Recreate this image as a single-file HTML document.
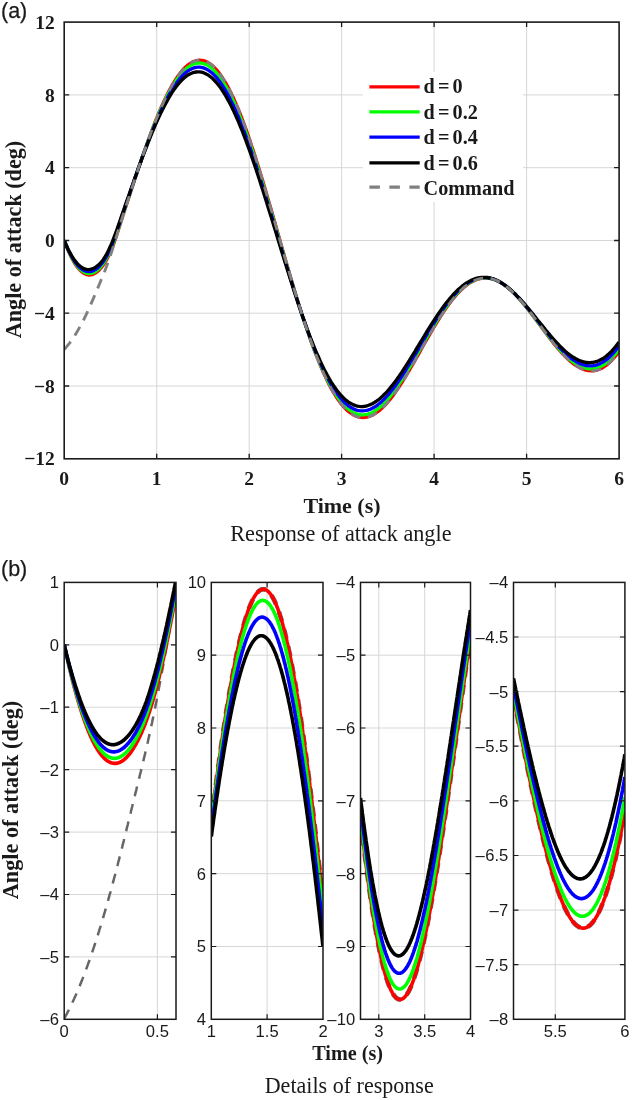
<!DOCTYPE html>
<html><head><meta charset="utf-8"><title>Figure</title>
<style>html,body{margin:0;padding:0;background:#fff}svg{display:block}</style></head>
<body>
<svg width="632" height="1100" viewBox="0 0 632 1100">
<rect width="632" height="1100" fill="#fff"/>
<clipPath id="c1"><rect x="64.2" y="22.1" width="554.9" height="436.7"/></clipPath>
<path d="M156.7,22.1V458.8M249.2,22.1V458.8M341.6,22.1V458.8M434.1,22.1V458.8M526.6,22.1V458.8M64.2,386.0H619.1M64.2,313.2H619.1M64.2,240.5H619.1M64.2,167.7H619.1M64.2,94.9H619.1" stroke="#d2d2d2" stroke-width="0.9" fill="none"/>
<g clip-path="url(#c1)" fill="none" stroke-linejoin="round">
<path d="M64.2,240.5 L66.1,245.4 L67.9,249.9 L69.8,254.1 L71.6,257.9 L73.5,261.3 L75.3,264.3 L77.2,267.0 L79.0,269.2 L80.9,271.1 L82.8,272.7 L84.6,273.8 L86.5,274.6 L88.3,275.0 L90.2,275.0 L92.0,274.6 L93.9,273.9 L95.7,272.9 L97.6,271.5 L99.5,269.7 L101.3,267.7 L103.2,265.3 L105.0,262.5 L106.9,259.3 L108.7,255.7 L110.6,251.6 L112.5,247.1 L114.3,242.2 L116.2,236.8 L118.0,231.1 L119.9,225.3 L121.7,219.4 L123.6,213.6 L125.4,207.9 L127.3,202.2 L129.2,196.5 L131.0,190.8 L132.9,185.2 L134.7,179.5 L136.6,174.0 L138.4,168.4 L140.3,162.9 L142.1,157.5 L144.0,152.2 L145.9,146.9 L147.7,141.7 L149.6,136.6 L151.4,131.6 L153.3,126.7 L155.1,122.0 L157.0,117.4 L158.8,112.9 L160.7,108.5 L162.6,104.3 L164.4,100.3 L166.3,96.4 L168.1,92.6 L170.0,89.1 L171.8,85.7 L173.7,82.6 L175.6,79.6 L177.4,76.8 L179.3,74.2 L181.1,71.8 L183.0,69.7 L184.8,67.7 L186.7,66.0 L188.5,64.5 L190.4,63.2 L192.3,62.1 L194.1,61.3 L196.0,60.7 L197.8,60.3 L199.7,60.2 L201.5,60.3 L203.4,60.7 L205.2,61.2 L207.1,62.0 L209.0,63.1 L210.8,64.4 L212.7,65.9 L214.5,67.6 L216.4,69.6 L218.2,71.8 L220.1,74.3 L221.9,76.9 L223.8,79.8 L225.7,82.9 L227.5,86.1 L229.4,89.6 L231.2,93.3 L233.1,97.2 L234.9,101.3 L236.8,105.6 L238.7,110.0 L240.5,114.7 L242.4,119.5 L244.2,124.4 L246.1,129.5 L247.9,134.8 L249.8,140.1 L251.6,145.7 L253.5,151.3 L255.4,157.1 L257.2,162.9 L259.1,168.9 L260.9,175.0 L262.8,181.1 L264.6,187.3 L266.5,193.6 L268.3,199.9 L270.2,206.3 L272.1,212.7 L273.9,219.2 L275.8,225.7 L277.6,232.2 L279.5,238.7 L281.3,245.1 L283.2,251.6 L285.0,258.1 L286.9,264.5 L288.8,270.9 L290.6,277.2 L292.5,283.4 L294.3,289.7 L296.2,295.8 L298.0,301.8 L299.9,307.8 L301.7,313.7 L303.6,319.4 L305.5,325.1 L307.3,330.6 L309.2,336.0 L311.0,341.3 L312.9,346.4 L314.7,351.4 L316.6,356.2 L318.5,360.9 L320.3,365.4 L322.2,369.8 L324.0,373.9 L325.9,377.9 L327.7,381.8 L329.6,385.4 L331.4,388.9 L333.3,392.1 L335.2,395.2 L337.0,398.1 L338.9,400.8 L340.7,403.3 L342.6,405.5 L344.4,407.6 L346.3,409.5 L348.1,411.2 L350.0,412.7 L351.9,413.9 L353.7,415.0 L355.6,415.9 L357.4,416.6 L359.3,417.1 L361.1,417.4 L363.0,417.5 L364.8,417.4 L366.7,417.1 L368.6,416.6 L370.4,416.0 L372.3,415.2 L374.1,414.2 L376.0,413.0 L377.8,411.7 L379.7,410.3 L381.6,408.6 L383.4,406.9 L385.3,404.9 L387.1,402.9 L389.0,400.7 L390.8,398.4 L392.7,396.0 L394.5,393.5 L396.4,390.9 L398.3,388.1 L400.1,385.3 L402.0,382.4 L403.8,379.5 L405.7,376.4 L407.5,373.4 L409.4,370.2 L411.2,367.0 L413.1,363.8 L415.0,360.5 L416.8,357.3 L418.7,354.0 L420.5,350.7 L422.4,347.3 L424.2,344.0 L426.1,340.8 L427.9,337.5 L429.8,334.3 L431.7,331.1 L433.5,327.9 L435.4,324.8 L437.2,321.8 L439.1,318.8 L440.9,315.8 L442.8,313.0 L444.6,310.2 L446.5,307.5 L448.4,305.0 L450.2,302.5 L452.1,300.1 L453.9,297.8 L455.8,295.6 L457.6,293.5 L459.5,291.6 L461.4,289.7 L463.2,288.0 L465.1,286.5 L466.9,285.0 L468.8,283.7 L470.6,282.5 L472.5,281.5 L474.3,280.6 L476.2,279.8 L478.1,279.2 L479.9,278.7 L481.8,278.3 L483.6,278.1 L485.5,278.1 L487.3,278.1 L489.2,278.4 L491.0,278.7 L492.9,279.2 L494.8,279.8 L496.6,280.5 L498.5,281.4 L500.3,282.4 L502.2,283.5 L504.0,284.8 L505.9,286.1 L507.7,287.6 L509.6,289.2 L511.5,290.8 L513.3,292.6 L515.2,294.4 L517.0,296.4 L518.9,298.4 L520.7,300.5 L522.6,302.7 L524.5,304.9 L526.3,307.2 L528.2,309.5 L530.0,311.9 L531.9,314.4 L533.7,316.8 L535.6,319.3 L537.4,321.8 L539.3,324.3 L541.2,326.8 L543.0,329.3 L544.9,331.8 L546.7,334.3 L548.6,336.7 L550.4,339.2 L552.3,341.5 L554.1,343.9 L556.0,346.2 L557.9,348.4 L559.7,350.5 L561.6,352.6 L563.4,354.6 L565.3,356.5 L567.1,358.4 L569.0,360.1 L570.8,361.7 L572.7,363.2 L574.6,364.6 L576.4,365.8 L578.3,366.9 L580.1,367.9 L582.0,368.8 L583.8,369.5 L585.7,370.1 L587.6,370.5 L589.4,370.7 L591.3,370.8 L593.1,370.8 L595.0,370.5 L596.8,370.1 L598.7,369.5 L600.5,368.8 L602.4,367.9 L604.3,366.7 L606.1,365.5 L608.0,364.0 L609.8,362.4 L611.7,360.5 L613.5,358.5 L615.4,356.3 L617.2,354.0 L619.1,351.4" stroke="#ff0000" stroke-width="3.3"/>
<path d="M64.2,240.5 L66.1,245.2 L67.9,249.6 L69.8,253.6 L71.6,257.3 L73.5,260.6 L75.3,263.5 L77.2,266.0 L79.0,268.2 L80.9,270.0 L82.8,271.4 L84.6,272.5 L86.5,273.2 L88.3,273.5 L90.2,273.5 L92.0,273.1 L93.9,272.4 L95.7,271.3 L97.6,269.9 L99.5,268.2 L101.3,266.1 L103.2,263.7 L105.0,260.9 L106.9,257.7 L108.7,254.1 L110.6,250.0 L112.5,245.5 L114.3,240.6 L116.2,235.3 L118.0,229.7 L119.9,224.0 L121.7,218.2 L123.6,212.6 L125.4,206.9 L127.3,201.3 L129.2,195.7 L131.0,190.1 L132.9,184.6 L134.7,179.0 L136.6,173.6 L138.4,168.1 L140.3,162.7 L142.1,157.4 L144.0,152.2 L145.9,147.0 L147.7,141.9 L149.6,136.9 L151.4,132.0 L153.3,127.3 L155.1,122.6 L157.0,118.1 L158.8,113.7 L160.7,109.5 L162.6,105.4 L164.4,101.4 L166.3,97.6 L168.1,94.0 L170.0,90.6 L171.8,87.3 L173.7,84.2 L175.6,81.3 L177.4,78.7 L179.3,76.2 L181.1,73.9 L183.0,71.8 L184.8,69.9 L186.7,68.3 L188.5,66.8 L190.4,65.6 L192.3,64.6 L194.1,63.9 L196.0,63.4 L197.8,63.1 L199.7,63.0 L201.5,63.2 L203.4,63.6 L205.2,64.2 L207.1,65.0 L209.0,66.1 L210.8,67.5 L212.7,69.0 L214.5,70.8 L216.4,72.8 L218.2,75.0 L220.1,77.5 L221.9,80.1 L223.8,83.0 L225.7,86.1 L227.5,89.4 L229.4,92.9 L231.2,96.6 L233.1,100.4 L234.9,104.5 L236.8,108.8 L238.7,113.2 L240.5,117.8 L242.4,122.5 L244.2,127.4 L246.1,132.5 L247.9,137.7 L249.8,143.1 L251.6,148.5 L253.5,154.1 L255.4,159.8 L257.2,165.6 L259.1,171.5 L260.9,177.5 L262.8,183.5 L264.6,189.7 L266.5,195.9 L268.3,202.1 L270.2,208.4 L272.1,214.8 L273.9,221.1 L275.8,227.5 L277.6,233.9 L279.5,240.3 L281.3,246.7 L283.2,253.0 L285.0,259.4 L286.9,265.7 L288.8,271.9 L290.6,278.2 L292.5,284.3 L294.3,290.4 L296.2,296.4 L298.0,302.4 L299.9,308.2 L301.7,314.0 L303.6,319.6 L305.5,325.1 L307.3,330.5 L309.2,335.8 L311.0,341.0 L312.9,346.0 L314.7,350.9 L316.6,355.6 L318.5,360.2 L320.3,364.6 L322.2,368.8 L324.0,372.9 L325.9,376.8 L327.7,380.5 L329.6,384.1 L331.4,387.4 L333.3,390.6 L335.2,393.6 L337.0,396.4 L338.9,399.0 L340.7,401.4 L342.6,403.6 L344.4,405.6 L346.3,407.4 L348.1,409.0 L350.0,410.4 L351.9,411.6 L353.7,412.7 L355.6,413.5 L357.4,414.1 L359.3,414.5 L361.1,414.8 L363.0,414.8 L364.8,414.7 L366.7,414.4 L368.6,413.9 L370.4,413.2 L372.3,412.4 L374.1,411.4 L376.0,410.2 L377.8,408.9 L379.7,407.4 L381.6,405.8 L383.4,404.0 L385.3,402.1 L387.1,400.1 L389.0,397.9 L390.8,395.6 L392.7,393.2 L394.5,390.7 L396.4,388.1 L398.3,385.4 L400.1,382.6 L402.0,379.8 L403.8,376.9 L405.7,373.9 L407.5,370.8 L409.4,367.7 L411.2,364.6 L413.1,361.4 L415.0,358.2 L416.8,354.9 L418.7,351.7 L420.5,348.4 L422.4,345.2 L424.2,342.0 L426.1,338.7 L427.9,335.5 L429.8,332.4 L431.7,329.2 L433.5,326.1 L435.4,323.1 L437.2,320.1 L439.1,317.2 L440.9,314.3 L442.8,311.6 L444.6,308.9 L446.5,306.2 L448.4,303.7 L450.2,301.3 L452.1,298.9 L453.9,296.7 L455.8,294.6 L457.6,292.6 L459.5,290.7 L461.4,288.9 L463.2,287.3 L465.1,285.8 L466.9,284.4 L468.8,283.1 L470.6,282.0 L472.5,281.0 L474.3,280.1 L476.2,279.4 L478.1,278.8 L479.9,278.4 L481.8,278.1 L483.6,277.9 L485.5,277.9 L487.3,278.0 L489.2,278.2 L491.0,278.6 L492.9,279.1 L494.8,279.7 L496.6,280.5 L498.5,281.4 L500.3,282.4 L502.2,283.5 L504.0,284.8 L505.9,286.1 L507.7,287.6 L509.6,289.1 L511.5,290.8 L513.3,292.6 L515.2,294.4 L517.0,296.3 L518.9,298.3 L520.7,300.4 L522.6,302.6 L524.5,304.8 L526.3,307.0 L528.2,309.3 L530.0,311.7 L531.9,314.1 L533.7,316.5 L535.6,318.9 L537.4,321.4 L539.3,323.9 L541.2,326.3 L543.0,328.8 L544.9,331.2 L546.7,333.7 L548.6,336.1 L550.4,338.4 L552.3,340.8 L554.1,343.0 L556.0,345.3 L557.9,347.4 L559.7,349.5 L561.6,351.5 L563.4,353.5 L565.3,355.3 L567.1,357.1 L569.0,358.8 L570.8,360.3 L572.7,361.7 L574.6,363.1 L576.4,364.3 L578.3,365.3 L580.1,366.3 L582.0,367.1 L583.8,367.7 L585.7,368.2 L587.6,368.6 L589.4,368.8 L591.3,368.9 L593.1,368.7 L595.0,368.5 L596.8,368.0 L598.7,367.4 L600.5,366.6 L602.4,365.6 L604.3,364.5 L606.1,363.2 L608.0,361.7 L609.8,360.0 L611.7,358.2 L613.5,356.2 L615.4,354.0 L617.2,351.6 L619.1,349.0" stroke="#00ff00" stroke-width="3.3"/>
<path d="M64.2,240.5 L66.1,245.0 L67.9,249.2 L69.8,253.0 L71.6,256.5 L73.5,259.6 L75.3,262.4 L77.2,264.8 L79.0,266.8 L80.9,268.5 L82.8,269.8 L84.6,270.8 L86.5,271.4 L88.3,271.7 L90.2,271.6 L92.0,271.1 L93.9,270.4 L95.7,269.3 L97.6,267.9 L99.5,266.2 L101.3,264.2 L103.2,261.8 L105.0,259.0 L106.9,255.8 L108.7,252.1 L110.6,248.0 L112.5,243.5 L114.3,238.7 L116.2,233.6 L118.0,228.1 L119.9,222.6 L121.7,217.0 L123.6,211.4 L125.4,205.9 L127.3,200.5 L129.2,195.0 L131.0,189.6 L132.9,184.2 L134.7,178.8 L136.6,173.4 L138.4,168.1 L140.3,162.9 L142.1,157.7 L144.0,152.6 L145.9,147.6 L147.7,142.7 L149.6,137.8 L151.4,133.1 L153.3,128.5 L155.1,124.0 L157.0,119.6 L158.8,115.4 L160.7,111.3 L162.6,107.3 L164.4,103.5 L166.3,99.9 L168.1,96.4 L170.0,93.1 L171.8,90.0 L173.7,87.0 L175.6,84.3 L177.4,81.7 L179.3,79.3 L181.1,77.1 L183.0,75.2 L184.8,73.4 L186.7,71.9 L188.5,70.5 L190.4,69.4 L192.3,68.5 L194.1,67.9 L196.0,67.4 L197.8,67.2 L199.7,67.2 L201.5,67.4 L203.4,67.9 L205.2,68.6 L207.1,69.5 L209.0,70.6 L210.8,72.0 L212.7,73.6 L214.5,75.4 L216.4,77.4 L218.2,79.6 L220.1,82.1 L221.9,84.7 L223.8,87.6 L225.7,90.7 L227.5,94.0 L229.4,97.4 L231.2,101.1 L233.1,104.9 L234.9,109.0 L236.8,113.2 L238.7,117.5 L240.5,122.1 L242.4,126.7 L244.2,131.6 L246.1,136.6 L247.9,141.7 L249.8,146.9 L251.6,152.3 L253.5,157.8 L255.4,163.4 L257.2,169.1 L259.1,174.9 L260.9,180.7 L262.8,186.7 L264.6,192.7 L266.5,198.8 L268.3,204.9 L270.2,211.0 L272.1,217.2 L273.9,223.4 L275.8,229.7 L277.6,235.9 L279.5,242.2 L281.3,248.4 L283.2,254.6 L285.0,260.8 L286.9,266.9 L288.8,273.0 L290.6,279.1 L292.5,285.1 L294.3,291.0 L296.2,296.9 L298.0,302.6 L299.9,308.3 L301.7,313.9 L303.6,319.4 L305.5,324.8 L307.3,330.0 L309.2,335.1 L311.0,340.1 L312.9,345.0 L314.7,349.7 L316.6,354.3 L318.5,358.7 L320.3,363.0 L322.2,367.1 L324.0,371.0 L325.9,374.8 L327.7,378.3 L329.6,381.8 L331.4,385.0 L333.3,388.0 L335.2,390.9 L337.0,393.6 L338.9,396.1 L340.7,398.3 L342.6,400.5 L344.4,402.4 L346.3,404.1 L348.1,405.6 L350.0,406.9 L351.9,408.1 L353.7,409.0 L355.6,409.8 L357.4,410.3 L359.3,410.7 L361.1,410.9 L363.0,410.9 L364.8,410.7 L366.7,410.4 L368.6,409.9 L370.4,409.2 L372.3,408.3 L374.1,407.3 L376.0,406.1 L377.8,404.8 L379.7,403.3 L381.6,401.7 L383.4,399.9 L385.3,398.0 L387.1,396.0 L389.0,393.9 L390.8,391.6 L392.7,389.2 L394.5,386.8 L396.4,384.2 L398.3,381.6 L400.1,378.8 L402.0,376.0 L403.8,373.2 L405.7,370.2 L407.5,367.2 L409.4,364.2 L411.2,361.1 L413.1,358.0 L415.0,354.9 L416.8,351.8 L418.7,348.6 L420.5,345.4 L422.4,342.3 L424.2,339.1 L426.1,336.0 L427.9,332.9 L429.8,329.8 L431.7,326.8 L433.5,323.8 L435.4,320.8 L437.2,317.9 L439.1,315.1 L440.9,312.3 L442.8,309.6 L444.6,307.0 L446.5,304.5 L448.4,302.1 L450.2,299.7 L452.1,297.5 L453.9,295.3 L455.8,293.3 L457.6,291.4 L459.5,289.6 L461.4,287.9 L463.2,286.3 L465.1,284.9 L466.9,283.6 L468.8,282.4 L470.6,281.3 L472.5,280.4 L474.3,279.6 L476.2,278.9 L478.1,278.4 L479.9,278.0 L481.8,277.7 L483.6,277.6 L485.5,277.6 L487.3,277.7 L489.2,278.0 L491.0,278.4 L492.9,278.9 L494.8,279.6 L496.6,280.4 L498.5,281.3 L500.3,282.3 L502.2,283.4 L504.0,284.6 L505.9,286.0 L507.7,287.4 L509.6,289.0 L511.5,290.6 L513.3,292.4 L515.2,294.2 L517.0,296.1 L518.9,298.1 L520.7,300.1 L522.6,302.2 L524.5,304.4 L526.3,306.6 L528.2,308.8 L530.0,311.1 L531.9,313.5 L533.7,315.8 L535.6,318.2 L537.4,320.6 L539.3,323.0 L541.2,325.4 L543.0,327.8 L544.9,330.1 L546.7,332.5 L548.6,334.8 L550.4,337.1 L552.3,339.4 L554.1,341.6 L556.0,343.7 L557.9,345.8 L559.7,347.8 L561.6,349.7 L563.4,351.6 L565.3,353.4 L567.1,355.0 L569.0,356.6 L570.8,358.1 L572.7,359.5 L574.6,360.7 L576.4,361.8 L578.3,362.8 L580.1,363.7 L582.0,364.4 L583.8,365.0 L585.7,365.5 L587.6,365.7 L589.4,365.9 L591.3,365.9 L593.1,365.7 L595.0,365.4 L596.8,364.9 L598.7,364.2 L600.5,363.4 L602.4,362.4 L604.3,361.2 L606.1,359.9 L608.0,358.4 L609.8,356.7 L611.7,354.8 L613.5,352.8 L615.4,350.6 L617.2,348.2 L619.1,345.7" stroke="#0000ff" stroke-width="3.3"/>
<path d="M64.2,240.5 L66.1,244.8 L67.9,248.7 L69.8,252.4 L71.6,255.6 L73.5,258.6 L75.3,261.2 L77.2,263.4 L79.0,265.3 L80.9,266.8 L82.8,268.0 L84.6,268.9 L86.5,269.4 L88.3,269.6 L90.2,269.4 L92.0,268.9 L93.9,268.2 L95.7,267.1 L97.6,265.7 L99.5,264.1 L101.3,262.1 L103.2,259.7 L105.0,256.8 L106.9,253.6 L108.7,249.9 L110.6,245.8 L112.5,241.4 L114.3,236.7 L116.2,231.7 L118.0,226.4 L119.9,221.0 L121.7,215.6 L123.6,210.2 L125.4,204.9 L127.3,199.6 L129.2,194.3 L131.0,189.0 L132.9,183.7 L134.7,178.5 L136.6,173.3 L138.4,168.2 L140.3,163.1 L142.1,158.1 L144.0,153.2 L145.9,148.3 L147.7,143.6 L149.6,138.9 L151.4,134.3 L153.3,129.9 L155.1,125.5 L157.0,121.3 L158.8,117.3 L160.7,113.3 L162.6,109.5 L164.4,105.9 L166.3,102.4 L168.1,99.1 L170.0,95.9 L171.8,92.9 L173.7,90.1 L175.6,87.5 L177.4,85.1 L179.3,82.8 L181.1,80.8 L183.0,79.0 L184.8,77.3 L186.7,75.9 L188.5,74.7 L190.4,73.7 L192.3,72.9 L194.1,72.3 L196.0,72.0 L197.8,71.8 L199.7,71.9 L201.5,72.2 L203.4,72.7 L205.2,73.5 L207.1,74.4 L209.0,75.6 L210.8,77.0 L212.7,78.6 L214.5,80.5 L216.4,82.5 L218.2,84.8 L220.1,87.2 L221.9,89.9 L223.8,92.7 L225.7,95.8 L227.5,99.1 L229.4,102.5 L231.2,106.1 L233.1,109.9 L234.9,113.9 L236.8,118.1 L238.7,122.4 L240.5,126.8 L242.4,131.4 L244.2,136.2 L246.1,141.1 L247.9,146.1 L249.8,151.3 L251.6,156.5 L253.5,161.9 L255.4,167.4 L257.2,173.0 L259.1,178.6 L260.9,184.4 L262.8,190.2 L264.6,196.0 L266.5,202.0 L268.3,207.9 L270.2,213.9 L272.1,220.0 L273.9,226.0 L275.8,232.1 L277.6,238.2 L279.5,244.2 L281.3,250.3 L283.2,256.3 L285.0,262.3 L286.9,268.3 L288.8,274.2 L290.6,280.1 L292.5,285.9 L294.3,291.7 L296.2,297.3 L298.0,302.9 L299.9,308.4 L301.7,313.8 L303.6,319.1 L305.5,324.3 L307.3,329.4 L309.2,334.3 L311.0,339.2 L312.9,343.8 L314.7,348.4 L316.6,352.8 L318.5,357.0 L320.3,361.1 L322.2,365.1 L324.0,368.9 L325.9,372.5 L327.7,375.9 L329.6,379.2 L331.4,382.3 L333.3,385.2 L335.2,387.9 L337.0,390.4 L338.9,392.8 L340.7,395.0 L342.6,397.0 L344.4,398.8 L346.3,400.4 L348.1,401.8 L350.0,403.0 L351.9,404.1 L353.7,404.9 L355.6,405.6 L357.4,406.1 L359.3,406.4 L361.1,406.6 L363.0,406.5 L364.8,406.3 L366.7,405.9 L368.6,405.3 L370.4,404.6 L372.3,403.7 L374.1,402.7 L376.0,401.5 L377.8,400.2 L379.7,398.7 L381.6,397.1 L383.4,395.3 L385.3,393.5 L387.1,391.5 L389.0,389.4 L390.8,387.1 L392.7,384.8 L394.5,382.4 L396.4,379.9 L398.3,377.3 L400.1,374.6 L402.0,371.9 L403.8,369.1 L405.7,366.2 L407.5,363.3 L409.4,360.3 L411.2,357.3 L413.1,354.3 L415.0,351.3 L416.8,348.2 L418.7,345.2 L420.5,342.1 L422.4,339.0 L424.2,336.0 L426.1,332.9 L427.9,329.9 L429.8,327.0 L431.7,324.0 L433.5,321.1 L435.4,318.3 L437.2,315.5 L439.1,312.8 L440.9,310.1 L442.8,307.5 L444.6,305.0 L446.5,302.6 L448.4,300.3 L450.2,298.0 L452.1,295.9 L453.9,293.8 L455.8,291.9 L457.6,290.1 L459.5,288.4 L461.4,286.8 L463.2,285.3 L465.1,283.9 L466.9,282.7 L468.8,281.6 L470.6,280.6 L472.5,279.7 L474.3,279.0 L476.2,278.4 L478.1,277.9 L479.9,277.6 L481.8,277.3 L483.6,277.3 L485.5,277.3 L487.3,277.5 L489.2,277.8 L491.0,278.2 L492.9,278.8 L494.8,279.4 L496.6,280.2 L498.5,281.1 L500.3,282.1 L502.2,283.3 L504.0,284.5 L505.9,285.9 L507.7,287.3 L509.6,288.8 L511.5,290.4 L513.3,292.1 L515.2,293.9 L517.0,295.8 L518.9,297.7 L520.7,299.7 L522.6,301.8 L524.5,303.9 L526.3,306.1 L528.2,308.3 L530.0,310.5 L531.9,312.8 L533.7,315.1 L535.6,317.4 L537.4,319.7 L539.3,322.0 L541.2,324.3 L543.0,326.6 L544.9,328.9 L546.7,331.2 L548.6,333.4 L550.4,335.6 L552.3,337.8 L554.1,339.9 L556.0,341.9 L557.9,343.9 L559.7,345.9 L561.6,347.7 L563.4,349.5 L565.3,351.2 L567.1,352.7 L569.0,354.2 L570.8,355.6 L572.7,356.9 L574.6,358.0 L576.4,359.1 L578.3,360.0 L580.1,360.8 L582.0,361.4 L583.8,362.0 L585.7,362.3 L587.6,362.5 L589.4,362.6 L591.3,362.5 L593.1,362.3 L595.0,361.9 L596.8,361.4 L598.7,360.7 L600.5,359.8 L602.4,358.8 L604.3,357.6 L606.1,356.2 L608.0,354.6 L609.8,352.9 L611.7,351.1 L613.5,349.0 L615.4,346.8 L617.2,344.4 L619.1,341.9" stroke="#000000" stroke-width="3.3"/>
<path d="M64.2,349.4 L66.1,347.4 L67.9,345.2 L69.8,342.8 L71.6,340.3 L73.5,337.6 L75.3,334.7 L77.2,331.6 L79.0,328.4 L80.9,325.0 L82.8,321.5 L84.6,317.8 L86.5,313.9 L88.3,309.9 L90.2,305.8 L92.0,301.6 L93.9,297.2 L95.7,292.8 L97.6,288.4 L99.5,284.0 L101.3,279.5 L103.2,275.1 L105.0,270.5 L106.9,265.6 L108.7,260.5 L110.6,255.0 L112.5,249.2 L114.3,243.2 L116.2,237.2 L118.0,231.2 L119.9,225.3 L121.7,219.4 L123.6,213.6 L125.4,207.9 L127.3,202.2 L129.2,196.5 L131.0,190.8 L132.9,185.2 L134.7,179.5 L136.6,174.0 L138.4,168.4 L140.3,162.9 L142.1,157.5 L144.0,152.2 L145.9,146.9 L147.7,141.7 L149.6,136.6 L151.4,131.6 L153.3,126.7 L155.1,122.0 L157.0,117.4 L158.8,112.9 L160.7,108.5 L162.6,104.3 L164.4,100.3 L166.3,96.4 L168.1,92.6 L170.0,89.1 L171.8,85.7 L173.7,82.6 L175.6,79.6 L177.4,76.8 L179.3,74.2 L181.1,71.8 L183.0,69.7 L184.8,67.7 L186.7,66.0 L188.5,64.5 L190.4,63.2 L192.3,62.1 L194.1,61.3 L196.0,60.7 L197.8,60.3 L199.7,60.2 L201.5,60.3 L203.4,60.7 L205.2,61.2 L207.1,62.0 L209.0,63.1 L210.8,64.4 L212.7,65.9 L214.5,67.6 L216.4,69.6 L218.2,71.8 L220.1,74.3 L221.9,76.9 L223.8,79.8 L225.7,82.9 L227.5,86.1 L229.4,89.6 L231.2,93.3 L233.1,97.2 L234.9,101.3 L236.8,105.6 L238.7,110.0 L240.5,114.7 L242.4,119.5 L244.2,124.4 L246.1,129.5 L247.9,134.8 L249.8,140.1 L251.6,145.7 L253.5,151.3 L255.4,157.1 L257.2,162.9 L259.1,168.9 L260.9,175.0 L262.8,181.1 L264.6,187.3 L266.5,193.6 L268.3,199.9 L270.2,206.3 L272.1,212.7 L273.9,219.2 L275.8,225.7 L277.6,232.2 L279.5,238.7 L281.3,245.1 L283.2,251.6 L285.0,258.1 L286.9,264.5 L288.8,270.9 L290.6,277.2 L292.5,283.4 L294.3,289.7 L296.2,295.8 L298.0,301.8 L299.9,307.8 L301.7,313.7 L303.6,319.4 L305.5,325.1 L307.3,330.6 L309.2,336.0 L311.0,341.3 L312.9,346.4 L314.7,351.4 L316.6,356.2 L318.5,360.9 L320.3,365.4 L322.2,369.8 L324.0,373.9 L325.9,377.9 L327.7,381.8 L329.6,385.4 L331.4,388.9 L333.3,392.1 L335.2,395.2 L337.0,398.1 L338.9,400.8 L340.7,403.3 L342.6,405.5 L344.4,407.6 L346.3,409.5 L348.1,411.2 L350.0,412.7 L351.9,413.9 L353.7,415.0 L355.6,415.9 L357.4,416.6 L359.3,417.1 L361.1,417.4 L363.0,417.5 L364.8,417.4 L366.7,417.1 L368.6,416.6 L370.4,416.0 L372.3,415.2 L374.1,414.2 L376.0,413.0 L377.8,411.7 L379.7,410.3 L381.6,408.6 L383.4,406.9 L385.3,404.9 L387.1,402.9 L389.0,400.7 L390.8,398.4 L392.7,396.0 L394.5,393.5 L396.4,390.9 L398.3,388.1 L400.1,385.3 L402.0,382.4 L403.8,379.5 L405.7,376.4 L407.5,373.4 L409.4,370.2 L411.2,367.0 L413.1,363.8 L415.0,360.5 L416.8,357.3 L418.7,354.0 L420.5,350.7 L422.4,347.3 L424.2,344.0 L426.1,340.8 L427.9,337.5 L429.8,334.3 L431.7,331.1 L433.5,327.9 L435.4,324.8 L437.2,321.8 L439.1,318.8 L440.9,315.8 L442.8,313.0 L444.6,310.2 L446.5,307.5 L448.4,305.0 L450.2,302.5 L452.1,300.1 L453.9,297.8 L455.8,295.6 L457.6,293.5 L459.5,291.6 L461.4,289.7 L463.2,288.0 L465.1,286.5 L466.9,285.0 L468.8,283.7 L470.6,282.5 L472.5,281.5 L474.3,280.6 L476.2,279.8 L478.1,279.2 L479.9,278.7 L481.8,278.3 L483.6,278.1 L485.5,278.1 L487.3,278.1 L489.2,278.4 L491.0,278.7 L492.9,279.2 L494.8,279.8 L496.6,280.5 L498.5,281.4 L500.3,282.4 L502.2,283.5 L504.0,284.8 L505.9,286.1 L507.7,287.6 L509.6,289.2 L511.5,290.8 L513.3,292.6 L515.2,294.4 L517.0,296.4 L518.9,298.4 L520.7,300.5 L522.6,302.7 L524.5,304.9 L526.3,307.2 L528.2,309.5 L530.0,311.9 L531.9,314.4 L533.7,316.8 L535.6,319.3 L537.4,321.8 L539.3,324.3 L541.2,326.8 L543.0,329.3 L544.9,331.8 L546.7,334.3 L548.6,336.7 L550.4,339.2 L552.3,341.5 L554.1,343.9 L556.0,346.2 L557.9,348.4 L559.7,350.5 L561.6,352.6 L563.4,354.6 L565.3,356.5 L567.1,358.4 L569.0,360.1 L570.8,361.7 L572.7,363.2 L574.6,364.6 L576.4,365.8 L578.3,366.9 L580.1,367.9 L582.0,368.8 L583.8,369.5 L585.7,370.1 L587.6,370.5 L589.4,370.7 L591.3,370.8 L593.1,370.8 L595.0,370.5 L596.8,370.1 L598.7,369.5 L600.5,368.8 L602.4,367.9 L604.3,366.7 L606.1,365.5 L608.0,364.0 L609.8,362.4 L611.7,360.5 L613.5,358.5 L615.4,356.3 L617.2,354.0 L619.1,351.4" stroke="#808080" stroke-width="2.9" stroke-dasharray="10 7.5"/>
</g>
<rect x="363" y="72" width="160" height="130" fill="#fff"/>
<path d="M156.7,458.8v-5.0M156.7,22.1v5.0M249.2,458.8v-5.0M249.2,22.1v5.0M341.6,458.8v-5.0M341.6,22.1v5.0M434.1,458.8v-5.0M434.1,22.1v5.0M526.6,458.8v-5.0M526.6,22.1v5.0M64.2,386.0h5.0M619.1,386.0h-5.0M64.2,313.2h5.0M619.1,313.2h-5.0M64.2,240.5h5.0M619.1,240.5h-5.0M64.2,167.7h5.0M619.1,167.7h-5.0M64.2,94.9h5.0M619.1,94.9h-5.0" stroke="#1a1a1a" stroke-width="1.3" fill="none"/>
<rect x="64.2" y="22.1" width="554.9" height="436.7" fill="none" stroke="#1a1a1a" stroke-width="1.6"/>
<text x="54.8" y="465.4" text-anchor="end" font-size="19.5" font-family="Liberation Serif, Times New Roman, serif" font-weight="bold" fill="#1a1a1a">−12</text>
<text x="54.8" y="392.6" text-anchor="end" font-size="19.5" font-family="Liberation Serif, Times New Roman, serif" font-weight="bold" fill="#1a1a1a">−8</text>
<text x="54.8" y="319.8" text-anchor="end" font-size="19.5" font-family="Liberation Serif, Times New Roman, serif" font-weight="bold" fill="#1a1a1a">−4</text>
<text x="54.8" y="247.1" text-anchor="end" font-size="19.5" font-family="Liberation Serif, Times New Roman, serif" font-weight="bold" fill="#1a1a1a">0</text>
<text x="54.8" y="174.3" text-anchor="end" font-size="19.5" font-family="Liberation Serif, Times New Roman, serif" font-weight="bold" fill="#1a1a1a">4</text>
<text x="54.8" y="101.5" text-anchor="end" font-size="19.5" font-family="Liberation Serif, Times New Roman, serif" font-weight="bold" fill="#1a1a1a">8</text>
<text x="54.8" y="28.7" text-anchor="end" font-size="19.5" font-family="Liberation Serif, Times New Roman, serif" font-weight="bold" fill="#1a1a1a">12</text>
<text x="64.2" y="484.8" text-anchor="middle" font-size="19.5" font-family="Liberation Serif, Times New Roman, serif" font-weight="bold" fill="#1a1a1a">0</text>
<text x="156.7" y="484.8" text-anchor="middle" font-size="19.5" font-family="Liberation Serif, Times New Roman, serif" font-weight="bold" fill="#1a1a1a">1</text>
<text x="249.2" y="484.8" text-anchor="middle" font-size="19.5" font-family="Liberation Serif, Times New Roman, serif" font-weight="bold" fill="#1a1a1a">2</text>
<text x="341.6" y="484.8" text-anchor="middle" font-size="19.5" font-family="Liberation Serif, Times New Roman, serif" font-weight="bold" fill="#1a1a1a">3</text>
<text x="434.1" y="484.8" text-anchor="middle" font-size="19.5" font-family="Liberation Serif, Times New Roman, serif" font-weight="bold" fill="#1a1a1a">4</text>
<text x="526.6" y="484.8" text-anchor="middle" font-size="19.5" font-family="Liberation Serif, Times New Roman, serif" font-weight="bold" fill="#1a1a1a">5</text>
<text x="619.1" y="484.8" text-anchor="middle" font-size="19.5" font-family="Liberation Serif, Times New Roman, serif" font-weight="bold" fill="#1a1a1a">6</text>
<path d="M369.4,86.9H419.7" stroke="#ff0000" stroke-width="3.2" fill="none"/>
<path d="M369.4,111.9H419.7" stroke="#00ff00" stroke-width="3.2" fill="none"/>
<path d="M369.4,137.2H419.7" stroke="#0000ff" stroke-width="3.2" fill="none"/>
<path d="M369.4,162.8H419.7" stroke="#000000" stroke-width="3.2" fill="none"/>
<path d="M369.4,187.2H419.7" stroke="#808080" stroke-width="3.2" stroke-dasharray="10.5 9.5" fill="none"/>
<text x="423.6" y="93.4" font-size="20.2" word-spacing="-1.9" font-family="Liberation Serif, Times New Roman, serif" font-weight="bold" fill="#1a1a1a">d = 0</text>
<text x="423.6" y="118.7" font-size="20.2" word-spacing="-1.9" font-family="Liberation Serif, Times New Roman, serif" font-weight="bold" fill="#1a1a1a">d = 0.2</text>
<text x="423.6" y="144.3" font-size="20.2" word-spacing="-1.9" font-family="Liberation Serif, Times New Roman, serif" font-weight="bold" fill="#1a1a1a">d = 0.4</text>
<text x="423.6" y="169.6" font-size="20.2" word-spacing="-1.9" font-family="Liberation Serif, Times New Roman, serif" font-weight="bold" fill="#1a1a1a">d = 0.6</text>
<text x="423.6" y="194.6" font-size="20.2" word-spacing="-1.9" font-family="Liberation Serif, Times New Roman, serif" font-weight="bold" fill="#1a1a1a">Command</text>
<text transform="translate(21.2,239.5) rotate(-90)" text-anchor="middle" font-size="22.15" font-family="Liberation Serif, Times New Roman, serif" font-weight="bold" fill="#1a1a1a">Angle of attack (deg)</text>
<text x="342" y="512.9" text-anchor="middle" font-size="22" font-family="Liberation Serif, Times New Roman, serif" font-weight="bold" fill="#1a1a1a">Time (s)</text>
<text x="340.9" y="541.4" text-anchor="middle" font-size="22.2" font-family="Liberation Serif, Times New Roman, serif" fill="#1a1a1a">Response of attack angle</text>
<text x="1.0" y="17.5" font-size="21.5" stroke="#1a1a1a" stroke-width="0.25" font-family="Liberation Sans, Arial, sans-serif" fill="#1a1a1a">(a)</text>
<text x="1.0" y="576.0" font-size="21.5" stroke="#1a1a1a" stroke-width="0.25" font-family="Liberation Sans, Arial, sans-serif" fill="#1a1a1a">(b)</text>
<clipPath id="c2"><rect x="64.2" y="582.4" width="111.8" height="436.9"/></clipPath>
<path d="M157.4,582.4V1019.3M64.2,956.9H176.0M64.2,894.5H176.0M64.2,832.1H176.0M64.2,769.6H176.0M64.2,707.2H176.0M64.2,644.8H176.0" stroke="#d2d2d2" stroke-width="0.9" fill="none"/>
<g clip-path="url(#c2)" fill="none" stroke-linejoin="round">
<path d="M64.2,1018.6 L64.6,1017.9 L64.9,1017.2 L65.3,1016.6 L65.7,1015.9 L66.1,1015.2 L66.4,1014.5 L66.8,1013.8 L67.2,1013.1 L67.6,1012.4 L67.9,1011.6 L68.3,1010.9 L68.7,1010.2 L69.1,1009.4 L69.4,1008.7 L69.8,1007.9 L70.2,1007.2 L70.6,1006.4 L70.9,1005.7 L71.3,1004.9 L71.7,1004.1 L72.1,1003.3 L72.4,1002.5 L72.8,1001.7 L73.2,1000.9 L73.5,1000.1 L73.9,999.3 L74.3,998.5 L74.7,997.6 L75.0,996.8 L75.4,996.0 L75.8,995.1 L76.2,994.3 L76.5,993.4 L76.9,992.5 L77.3,991.7 L77.7,990.8 L78.0,989.9 L78.4,989.0 L78.8,988.1 L79.2,987.2 L79.5,986.3 L79.9,985.4 L80.3,984.5 L80.7,983.6 L81.0,982.6 L81.4,981.7 L81.8,980.8 L82.1,979.8 L82.5,978.9 L82.9,977.9 L83.3,976.9 L83.6,976.0 L84.0,975.0 L84.4,974.0 L84.8,973.0 L85.1,972.0 L85.5,971.0 L85.9,970.0 L86.3,969.0 L86.6,968.0 L87.0,967.0 L87.4,965.9 L87.8,964.9 L88.1,963.9 L88.5,962.8 L88.9,961.8 L89.3,960.7 L89.6,959.7 L90.0,958.6 L90.4,957.5 L90.7,956.4 L91.1,955.4 L91.5,954.3 L91.9,953.2 L92.2,952.1 L92.6,951.0 L93.0,949.8 L93.4,948.7 L93.7,947.6 L94.1,946.5 L94.5,945.3 L94.9,944.2 L95.2,943.1 L95.6,941.9 L96.0,940.7 L96.4,939.6 L96.7,938.4 L97.1,937.2 L97.5,936.1 L97.9,934.9 L98.2,933.7 L98.6,932.5 L99.0,931.3 L99.3,930.1 L99.7,928.9 L100.1,927.7 L100.5,926.4 L100.8,925.2 L101.2,924.0 L101.6,922.7 L102.0,921.5 L102.3,920.2 L102.7,919.0 L103.1,917.7 L103.5,916.5 L103.8,915.2 L104.2,913.9 L104.6,912.6 L105.0,911.4 L105.3,910.1 L105.7,908.8 L106.1,907.5 L106.5,906.2 L106.8,904.9 L107.2,903.5 L107.6,902.2 L107.9,900.9 L108.3,899.6 L108.7,898.2 L109.1,896.9 L109.4,895.5 L109.8,894.2 L110.2,892.8 L110.6,891.5 L110.9,890.1 L111.3,888.7 L111.7,887.4 L112.1,886.0 L112.4,884.6 L112.8,883.2 L113.2,881.8 L113.6,880.4 L113.9,879.0 L114.3,877.6 L114.7,876.2 L115.1,874.8 L115.4,873.3 L115.8,871.9 L116.2,870.5 L116.5,869.1 L116.9,867.6 L117.3,866.2 L117.7,864.7 L118.0,863.3 L118.4,861.8 L118.8,860.4 L119.2,858.9 L119.5,857.4 L119.9,856.0 L120.3,854.5 L120.7,853.0 L121.0,851.5 L121.4,850.1 L121.8,848.6 L122.2,847.1 L122.5,845.6 L122.9,844.1 L123.3,842.6 L123.7,841.1 L124.0,839.6 L124.4,838.1 L124.8,836.6 L125.1,835.1 L125.5,833.6 L125.9,832.1 L126.3,830.6 L126.6,829.1 L127.0,827.5 L127.4,826.0 L127.8,824.5 L128.1,823.0 L128.5,821.5 L128.9,819.9 L129.3,818.4 L129.6,816.9 L130.0,815.4 L130.4,813.9 L130.8,812.3 L131.1,810.8 L131.5,809.3 L131.9,807.8 L132.3,806.3 L132.6,804.7 L133.0,803.2 L133.4,801.7 L133.7,800.2 L134.1,798.7 L134.5,797.1 L134.9,795.6 L135.2,794.1 L135.6,792.6 L136.0,791.1 L136.4,789.5 L136.7,788.0 L137.1,786.5 L137.5,785.0 L137.9,783.5 L138.2,781.9 L138.6,780.4 L139.0,778.9 L139.4,777.4 L139.7,775.8 L140.1,774.3 L140.5,772.8 L140.9,771.2 L141.2,769.7 L141.6,768.2 L142.0,766.6 L142.3,765.1 L142.7,763.5 L143.1,762.0 L143.5,760.4 L143.8,758.9 L144.2,757.3 L144.6,755.7 L145.0,754.1 L145.3,752.6 L145.7,751.0 L146.1,749.4 L146.5,747.8 L146.8,746.1 L147.2,744.5 L147.6,742.9 L148.0,741.2 L148.3,739.6 L148.7,737.9 L149.1,736.3 L149.5,734.6 L149.8,732.9 L150.2,731.2 L150.6,729.5 L150.9,727.7 L151.3,726.0 L151.7,724.2 L152.1,722.5 L152.4,720.7 L152.8,718.9 L153.2,717.1 L153.6,715.3 L153.9,713.5 L154.3,711.7 L154.7,709.8 L155.1,708.0 L155.4,706.1 L155.8,704.2 L156.2,702.3 L156.6,700.4 L156.9,698.5 L157.3,696.6 L157.7,694.7 L158.1,692.7 L158.4,690.8 L158.8,688.8 L159.2,686.8 L159.5,684.9 L159.9,682.9 L160.3,680.9 L160.7,678.9 L161.0,676.9 L161.4,674.8 L161.8,672.8 L162.2,670.8 L162.5,668.7 L162.9,666.7 L163.3,664.7 L163.7,662.6 L164.0,660.5 L164.4,658.5 L164.8,656.4 L165.2,654.4 L165.5,652.3 L165.9,650.2 L166.3,648.2 L166.7,646.1 L167.0,644.0 L167.4,641.9 L167.8,639.9 L168.1,637.8 L168.5,635.7 L168.9,633.7 L169.3,631.6 L169.6,629.5 L170.0,627.5 L170.4,625.4 L170.8,623.3 L171.1,621.3 L171.5,619.2 L171.9,617.2 L172.3,615.1 L172.6,613.1 L173.0,611.0 L173.4,609.0 L173.8,606.9 L174.1,604.9 L174.5,602.8 L174.9,600.8 L175.3,598.8 L175.6,596.7 L176.0,594.7" stroke="#666666" stroke-width="2.5" stroke-dasharray="10 8"/>
<path d="M64.2,644.8 L64.6,646.6 L64.9,648.3 L65.3,650.0 L65.7,651.7 L66.1,653.4 L66.4,655.1 L66.8,656.8 L67.2,658.4 L67.6,660.1 L67.9,661.7 L68.3,663.3 L68.7,664.9 L69.1,666.5 L69.4,668.1 L69.8,669.6 L70.2,671.2 L70.6,672.7 L70.9,674.2 L71.3,675.8 L71.7,677.3 L72.1,678.7 L72.4,680.2 L72.8,681.7 L73.2,683.1 L73.5,684.6 L73.9,686.0 L74.3,687.4 L74.7,688.8 L75.0,690.2 L75.4,691.5 L75.8,692.9 L76.2,694.2 L76.5,695.6 L76.9,696.9 L77.3,698.2 L77.7,699.5 L78.0,700.8 L78.4,702.0 L78.8,703.3 L79.2,704.5 L79.5,705.7 L79.9,707.0 L80.3,708.2 L80.7,709.3 L81.0,710.5 L81.4,711.7 L81.8,712.8 L82.1,714.0 L82.5,715.1 L82.9,716.2 L83.3,717.3 L83.6,718.4 L84.0,719.5 L84.4,720.5 L84.8,721.6 L85.1,722.6 L85.5,723.6 L85.9,724.7 L86.3,725.7 L86.6,726.6 L87.0,727.6 L87.4,728.6 L87.8,729.5 L88.1,730.4 L88.5,731.4 L88.9,732.3 L89.3,733.2 L89.6,734.0 L90.0,734.9 L90.4,735.8 L90.7,736.6 L91.1,737.4 L91.5,738.2 L91.9,739.0 L92.2,739.8 L92.6,740.6 L93.0,741.4 L93.4,742.1 L93.7,742.9 L94.1,743.6 L94.5,744.3 L94.9,745.0 L95.2,745.7 L95.6,746.3 L96.0,747.0 L96.4,747.6 L96.7,748.3 L97.1,748.9 L97.5,749.5 L97.9,750.1 L98.2,750.7 L98.6,751.2 L99.0,751.8 L99.3,752.3 L99.7,752.9 L100.1,753.4 L100.5,753.9 L100.8,754.4 L101.2,754.8 L101.6,755.3 L102.0,755.8 L102.3,756.2 L102.7,756.6 L103.1,757.0 L103.5,757.4 L103.8,757.8 L104.2,758.2 L104.6,758.5 L105.0,758.9 L105.3,759.2 L105.7,759.5 L106.1,759.9 L106.5,760.1 L106.8,760.4 L107.2,760.7 L107.6,761.0 L107.9,761.2 L108.3,761.4 L108.7,761.6 L109.1,761.9 L109.4,762.0 L109.8,762.2 L110.2,762.4 L110.6,762.5 L110.9,762.7 L111.3,762.8 L111.7,762.9 L112.1,763.0 L112.4,763.1 L112.8,763.2 L113.2,763.3 L113.6,763.3 L113.9,763.4 L114.3,763.4 L114.7,763.4 L115.1,763.4 L115.4,763.4 L115.8,763.4 L116.2,763.3 L116.5,763.3 L116.9,763.2 L117.3,763.1 L117.7,763.1 L118.0,763.0 L118.4,762.8 L118.8,762.7 L119.2,762.6 L119.5,762.4 L119.9,762.3 L120.3,762.1 L120.7,761.9 L121.0,761.7 L121.4,761.5 L121.8,761.3 L122.2,761.1 L122.5,760.8 L122.9,760.5 L123.3,760.3 L123.7,760.0 L124.0,759.7 L124.4,759.4 L124.8,759.1 L125.1,758.7 L125.5,758.4 L125.9,758.0 L126.3,757.7 L126.6,757.3 L127.0,756.9 L127.4,756.5 L127.8,756.1 L128.1,755.6 L128.5,755.2 L128.9,754.8 L129.3,754.3 L129.6,753.8 L130.0,753.3 L130.4,752.8 L130.8,752.3 L131.1,751.8 L131.5,751.3 L131.9,750.7 L132.3,750.2 L132.6,749.6 L133.0,749.0 L133.4,748.4 L133.7,747.8 L134.1,747.2 L134.5,746.6 L134.9,746.0 L135.2,745.3 L135.6,744.7 L136.0,744.0 L136.4,743.3 L136.7,742.6 L137.1,741.9 L137.5,741.2 L137.9,740.5 L138.2,739.7 L138.6,739.0 L139.0,738.2 L139.4,737.4 L139.7,736.7 L140.1,735.9 L140.5,735.1 L140.9,734.2 L141.2,733.4 L141.6,732.6 L142.0,731.7 L142.3,730.8 L142.7,729.9 L143.1,729.0 L143.5,728.1 L143.8,727.2 L144.2,726.3 L144.6,725.3 L145.0,724.4 L145.3,723.4 L145.7,722.4 L146.1,721.4 L146.5,720.4 L146.8,719.3 L147.2,718.3 L147.6,717.2 L148.0,716.2 L148.3,715.1 L148.7,714.0 L149.1,712.9 L149.5,711.7 L149.8,710.6 L150.2,709.4 L150.6,708.2 L150.9,707.1 L151.3,705.8 L151.7,704.6 L152.1,703.4 L152.4,702.1 L152.8,700.9 L153.2,699.6 L153.6,698.3 L153.9,697.0 L154.3,695.6 L154.7,694.3 L155.1,692.9 L155.4,691.6 L155.8,690.2 L156.2,688.8 L156.6,687.4 L156.9,685.9 L157.3,684.5 L157.7,683.0 L158.1,681.5 L158.4,680.1 L158.8,678.5 L159.2,677.0 L159.5,675.5 L159.9,673.9 L160.3,672.4 L160.7,670.8 L161.0,669.2 L161.4,667.6 L161.8,666.0 L162.2,664.3 L162.5,662.7 L162.9,661.0 L163.3,659.3 L163.7,657.6 L164.0,655.9 L164.4,654.2 L164.8,652.4 L165.2,650.7 L165.5,648.9 L165.9,647.1 L166.3,645.3 L166.7,643.5 L167.0,641.7 L167.4,639.8 L167.8,638.0 L168.1,636.1 L168.5,634.2 L168.9,632.3 L169.3,630.4 L169.6,628.5 L170.0,626.6 L170.4,624.6 L170.8,622.7 L171.1,620.7 L171.5,618.8 L171.9,616.8 L172.3,614.8 L172.6,612.8 L173.0,610.8 L173.4,608.8 L173.8,606.8 L174.1,604.8 L174.5,602.8 L174.9,600.8 L175.3,598.8 L175.6,596.7 L176.0,594.7" stroke="#ff0000" stroke-width="3.6"/>
<path d="M64.2,644.8 L64.6,646.5 L64.9,648.2 L65.3,649.9 L65.7,651.5 L66.1,653.1 L66.4,654.8 L66.8,656.4 L67.2,658.0 L67.6,659.6 L67.9,661.2 L68.3,662.7 L68.7,664.3 L69.1,665.8 L69.4,667.3 L69.8,668.8 L70.2,670.3 L70.6,671.8 L70.9,673.3 L71.3,674.8 L71.7,676.2 L72.1,677.6 L72.4,679.1 L72.8,680.5 L73.2,681.9 L73.5,683.3 L73.9,684.6 L74.3,686.0 L74.7,687.3 L75.0,688.7 L75.4,690.0 L75.8,691.3 L76.2,692.6 L76.5,693.9 L76.9,695.2 L77.3,696.4 L77.7,697.7 L78.0,698.9 L78.4,700.1 L78.8,701.3 L79.2,702.5 L79.5,703.7 L79.9,704.9 L80.3,706.0 L80.7,707.2 L81.0,708.3 L81.4,709.4 L81.8,710.5 L82.1,711.6 L82.5,712.7 L82.9,713.8 L83.3,714.9 L83.6,715.9 L84.0,716.9 L84.4,717.9 L84.8,719.0 L85.1,719.9 L85.5,720.9 L85.9,721.9 L86.3,722.9 L86.6,723.8 L87.0,724.7 L87.4,725.7 L87.8,726.6 L88.1,727.5 L88.5,728.3 L88.9,729.2 L89.3,730.1 L89.6,730.9 L90.0,731.7 L90.4,732.5 L90.7,733.3 L91.1,734.1 L91.5,734.9 L91.9,735.7 L92.2,736.4 L92.6,737.2 L93.0,737.9 L93.4,738.6 L93.7,739.3 L94.1,740.0 L94.5,740.7 L94.9,741.3 L95.2,742.0 L95.6,742.6 L96.0,743.3 L96.4,743.9 L96.7,744.5 L97.1,745.1 L97.5,745.6 L97.9,746.2 L98.2,746.7 L98.6,747.3 L99.0,747.8 L99.3,748.3 L99.7,748.8 L100.1,749.3 L100.5,749.8 L100.8,750.2 L101.2,750.7 L101.6,751.1 L102.0,751.5 L102.3,751.9 L102.7,752.3 L103.1,752.7 L103.5,753.1 L103.8,753.4 L104.2,753.8 L104.6,754.1 L105.0,754.4 L105.3,754.7 L105.7,755.0 L106.1,755.3 L106.5,755.6 L106.8,755.8 L107.2,756.1 L107.6,756.3 L107.9,756.5 L108.3,756.7 L108.7,756.9 L109.1,757.1 L109.4,757.3 L109.8,757.4 L110.2,757.6 L110.6,757.7 L110.9,757.8 L111.3,758.0 L111.7,758.0 L112.1,758.1 L112.4,758.2 L112.8,758.3 L113.2,758.3 L113.6,758.3 L113.9,758.4 L114.3,758.4 L114.7,758.4 L115.1,758.3 L115.4,758.3 L115.8,758.3 L116.2,758.2 L116.5,758.2 L116.9,758.1 L117.3,758.0 L117.7,757.9 L118.0,757.8 L118.4,757.6 L118.8,757.5 L119.2,757.4 L119.5,757.2 L119.9,757.0 L120.3,756.8 L120.7,756.6 L121.0,756.4 L121.4,756.2 L121.8,756.0 L122.2,755.7 L122.5,755.5 L122.9,755.2 L123.3,754.9 L123.7,754.6 L124.0,754.3 L124.4,754.0 L124.8,753.7 L125.1,753.4 L125.5,753.0 L125.9,752.7 L126.3,752.3 L126.6,751.9 L127.0,751.5 L127.4,751.1 L127.8,750.7 L128.1,750.3 L128.5,749.8 L128.9,749.4 L129.3,748.9 L129.6,748.4 L130.0,747.9 L130.4,747.5 L130.8,746.9 L131.1,746.4 L131.5,745.9 L131.9,745.4 L132.3,744.8 L132.6,744.2 L133.0,743.7 L133.4,743.1 L133.7,742.5 L134.1,741.9 L134.5,741.3 L134.9,740.6 L135.2,740.0 L135.6,739.3 L136.0,738.7 L136.4,738.0 L136.7,737.3 L137.1,736.6 L137.5,735.9 L137.9,735.2 L138.2,734.5 L138.6,733.7 L139.0,733.0 L139.4,732.2 L139.7,731.4 L140.1,730.6 L140.5,729.8 L140.9,729.0 L141.2,728.2 L141.6,727.3 L142.0,726.5 L142.3,725.6 L142.7,724.7 L143.1,723.8 L143.5,722.9 L143.8,722.0 L144.2,721.0 L144.6,720.1 L145.0,719.1 L145.3,718.1 L145.7,717.1 L146.1,716.1 L146.5,715.1 L146.8,714.1 L147.2,713.0 L147.6,711.9 L148.0,710.9 L148.3,709.8 L148.7,708.6 L149.1,707.5 L149.5,706.4 L149.8,705.2 L150.2,704.0 L150.6,702.9 L150.9,701.6 L151.3,700.4 L151.7,699.2 L152.1,697.9 L152.4,696.7 L152.8,695.4 L153.2,694.1 L153.6,692.8 L153.9,691.5 L154.3,690.1 L154.7,688.8 L155.1,687.4 L155.4,686.0 L155.8,684.6 L156.2,683.2 L156.6,681.8 L156.9,680.4 L157.3,678.9 L157.7,677.4 L158.1,676.0 L158.4,674.5 L158.8,673.0 L159.2,671.4 L159.5,669.9 L159.9,668.4 L160.3,666.8 L160.7,665.2 L161.0,663.6 L161.4,662.0 L161.8,660.4 L162.2,658.8 L162.5,657.1 L162.9,655.5 L163.3,653.8 L163.7,652.1 L164.0,650.4 L164.4,648.7 L164.8,647.0 L165.2,645.3 L165.5,643.5 L165.9,641.8 L166.3,640.0 L166.7,638.2 L167.0,636.4 L167.4,634.6 L167.8,632.8 L168.1,630.9 L168.5,629.1 L168.9,627.2 L169.3,625.3 L169.6,623.4 L170.0,621.5 L170.4,619.6 L170.8,617.7 L171.1,615.8 L171.5,613.9 L171.9,611.9 L172.3,610.0 L172.6,608.0 L173.0,606.1 L173.4,604.1 L173.8,602.1 L174.1,600.2 L174.5,598.2 L174.9,596.2 L175.3,594.2 L175.6,592.3 L176.0,590.3" stroke="#00ff00" stroke-width="3.6"/>
<path d="M64.2,644.8 L64.6,646.4 L64.9,648.0 L65.3,649.6 L65.7,651.2 L66.1,652.8 L66.4,654.3 L66.8,655.9 L67.2,657.4 L67.6,658.9 L67.9,660.4 L68.3,661.9 L68.7,663.4 L69.1,664.9 L69.4,666.3 L69.8,667.8 L70.2,669.2 L70.6,670.6 L70.9,672.0 L71.3,673.4 L71.7,674.8 L72.1,676.2 L72.4,677.5 L72.8,678.9 L73.2,680.2 L73.5,681.5 L73.9,682.8 L74.3,684.1 L74.7,685.4 L75.0,686.7 L75.4,688.0 L75.8,689.2 L76.2,690.4 L76.5,691.7 L76.9,692.9 L77.3,694.1 L77.7,695.3 L78.0,696.4 L78.4,697.6 L78.8,698.7 L79.2,699.9 L79.5,701.0 L79.9,702.1 L80.3,703.2 L80.7,704.3 L81.0,705.4 L81.4,706.4 L81.8,707.5 L82.1,708.5 L82.5,709.6 L82.9,710.6 L83.3,711.6 L83.6,712.6 L84.0,713.5 L84.4,714.5 L84.8,715.5 L85.1,716.4 L85.5,717.3 L85.9,718.2 L86.3,719.2 L86.6,720.0 L87.0,720.9 L87.4,721.8 L87.8,722.6 L88.1,723.5 L88.5,724.3 L88.9,725.1 L89.3,725.9 L89.6,726.7 L90.0,727.5 L90.4,728.3 L90.7,729.0 L91.1,729.8 L91.5,730.5 L91.9,731.2 L92.2,731.9 L92.6,732.6 L93.0,733.3 L93.4,734.0 L93.7,734.6 L94.1,735.3 L94.5,735.9 L94.9,736.5 L95.2,737.1 L95.6,737.7 L96.0,738.3 L96.4,738.9 L96.7,739.5 L97.1,740.0 L97.5,740.5 L97.9,741.1 L98.2,741.6 L98.6,742.1 L99.0,742.5 L99.3,743.0 L99.7,743.5 L100.1,743.9 L100.5,744.3 L100.8,744.8 L101.2,745.2 L101.6,745.6 L102.0,746.0 L102.3,746.3 L102.7,746.7 L103.1,747.0 L103.5,747.4 L103.8,747.7 L104.2,748.0 L104.6,748.3 L105.0,748.6 L105.3,748.9 L105.7,749.1 L106.1,749.4 L106.5,749.6 L106.8,749.9 L107.2,750.1 L107.6,750.3 L107.9,750.5 L108.3,750.6 L108.7,750.8 L109.1,751.0 L109.4,751.1 L109.8,751.2 L110.2,751.3 L110.6,751.5 L110.9,751.5 L111.3,751.6 L111.7,751.7 L112.1,751.8 L112.4,751.8 L112.8,751.8 L113.2,751.9 L113.6,751.9 L113.9,751.9 L114.3,751.9 L114.7,751.8 L115.1,751.8 L115.4,751.7 L115.8,751.7 L116.2,751.6 L116.5,751.5 L116.9,751.4 L117.3,751.3 L117.7,751.2 L118.0,751.1 L118.4,750.9 L118.8,750.8 L119.2,750.6 L119.5,750.4 L119.9,750.3 L120.3,750.1 L120.7,749.8 L121.0,749.6 L121.4,749.4 L121.8,749.2 L122.2,748.9 L122.5,748.6 L122.9,748.4 L123.3,748.1 L123.7,747.8 L124.0,747.5 L124.4,747.2 L124.8,746.8 L125.1,746.5 L125.5,746.1 L125.9,745.8 L126.3,745.4 L126.6,745.0 L127.0,744.6 L127.4,744.2 L127.8,743.8 L128.1,743.4 L128.5,742.9 L128.9,742.5 L129.3,742.0 L129.6,741.6 L130.0,741.1 L130.4,740.6 L130.8,740.1 L131.1,739.6 L131.5,739.1 L131.9,738.5 L132.3,738.0 L132.6,737.4 L133.0,736.9 L133.4,736.3 L133.7,735.7 L134.1,735.1 L134.5,734.5 L134.9,733.9 L135.2,733.3 L135.6,732.6 L136.0,732.0 L136.4,731.3 L136.7,730.6 L137.1,729.9 L137.5,729.2 L137.9,728.5 L138.2,727.8 L138.6,727.1 L139.0,726.3 L139.4,725.6 L139.7,724.8 L140.1,724.0 L140.5,723.2 L140.9,722.4 L141.2,721.5 L141.6,720.7 L142.0,719.9 L142.3,719.0 L142.7,718.1 L143.1,717.2 L143.5,716.3 L143.8,715.4 L144.2,714.4 L144.6,713.5 L145.0,712.5 L145.3,711.5 L145.7,710.5 L146.1,709.5 L146.5,708.5 L146.8,707.4 L147.2,706.4 L147.6,705.3 L148.0,704.2 L148.3,703.1 L148.7,702.0 L149.1,700.8 L149.5,699.7 L149.8,698.5 L150.2,697.3 L150.6,696.1 L150.9,694.9 L151.3,693.7 L151.7,692.5 L152.1,691.2 L152.4,689.9 L152.8,688.6 L153.2,687.3 L153.6,686.0 L153.9,684.7 L154.3,683.4 L154.7,682.0 L155.1,680.6 L155.4,679.2 L155.8,677.8 L156.2,676.4 L156.6,675.0 L156.9,673.6 L157.3,672.1 L157.7,670.7 L158.1,669.2 L158.4,667.7 L158.8,666.2 L159.2,664.7 L159.5,663.2 L159.9,661.6 L160.3,660.1 L160.7,658.5 L161.0,657.0 L161.4,655.4 L161.8,653.8 L162.2,652.2 L162.5,650.6 L162.9,648.9 L163.3,647.3 L163.7,645.6 L164.0,644.0 L164.4,642.3 L164.8,640.6 L165.2,638.9 L165.5,637.2 L165.9,635.5 L166.3,633.7 L166.7,632.0 L167.0,630.2 L167.4,628.5 L167.8,626.7 L168.1,624.9 L168.5,623.1 L168.9,621.3 L169.3,619.5 L169.6,617.6 L170.0,615.8 L170.4,613.9 L170.8,612.0 L171.1,610.2 L171.5,608.3 L171.9,606.4 L172.3,604.5 L172.6,602.6 L173.0,600.7 L173.4,598.8 L173.8,596.9 L174.1,595.0 L174.5,593.1 L174.9,591.1 L175.3,589.2 L175.6,587.3 L176.0,585.4" stroke="#0000ff" stroke-width="3.6"/>
<path d="M64.2,644.8 L64.6,646.4 L64.9,647.9 L65.3,649.4 L65.7,650.9 L66.1,652.4 L66.4,653.9 L66.8,655.3 L67.2,656.8 L67.6,658.2 L67.9,659.6 L68.3,661.1 L68.7,662.5 L69.1,663.8 L69.4,665.2 L69.8,666.6 L70.2,668.0 L70.6,669.3 L70.9,670.6 L71.3,671.9 L71.7,673.3 L72.1,674.6 L72.4,675.8 L72.8,677.1 L73.2,678.4 L73.5,679.6 L73.9,680.9 L74.3,682.1 L74.7,683.3 L75.0,684.5 L75.4,685.7 L75.8,686.9 L76.2,688.0 L76.5,689.2 L76.9,690.3 L77.3,691.4 L77.7,692.6 L78.0,693.7 L78.4,694.8 L78.8,695.8 L79.2,696.9 L79.5,698.0 L79.9,699.0 L80.3,700.1 L80.7,701.1 L81.0,702.1 L81.4,703.1 L81.8,704.1 L82.1,705.1 L82.5,706.0 L82.9,707.0 L83.3,707.9 L83.6,708.8 L84.0,709.8 L84.4,710.7 L84.8,711.6 L85.1,712.4 L85.5,713.3 L85.9,714.2 L86.3,715.0 L86.6,715.9 L87.0,716.7 L87.4,717.5 L87.8,718.3 L88.1,719.1 L88.5,719.8 L88.9,720.6 L89.3,721.4 L89.6,722.1 L90.0,722.8 L90.4,723.5 L90.7,724.2 L91.1,724.9 L91.5,725.6 L91.9,726.3 L92.2,726.9 L92.6,727.6 L93.0,728.2 L93.4,728.8 L93.7,729.4 L94.1,730.0 L94.5,730.6 L94.9,731.2 L95.2,731.7 L95.6,732.3 L96.0,732.8 L96.4,733.3 L96.7,733.9 L97.1,734.4 L97.5,734.8 L97.9,735.3 L98.2,735.8 L98.6,736.2 L99.0,736.7 L99.3,737.1 L99.7,737.5 L100.1,737.9 L100.5,738.3 L100.8,738.7 L101.2,739.1 L101.6,739.4 L102.0,739.8 L102.3,740.1 L102.7,740.4 L103.1,740.7 L103.5,741.0 L103.8,741.3 L104.2,741.6 L104.6,741.9 L105.0,742.1 L105.3,742.3 L105.7,742.6 L106.1,742.8 L106.5,743.0 L106.8,743.2 L107.2,743.4 L107.6,743.5 L107.9,743.7 L108.3,743.8 L108.7,744.0 L109.1,744.1 L109.4,744.2 L109.8,744.3 L110.2,744.4 L110.6,744.5 L110.9,744.5 L111.3,744.6 L111.7,744.6 L112.1,744.7 L112.4,744.7 L112.8,744.7 L113.2,744.7 L113.6,744.7 L113.9,744.6 L114.3,744.6 L114.7,744.6 L115.1,744.5 L115.4,744.4 L115.8,744.3 L116.2,744.3 L116.5,744.2 L116.9,744.0 L117.3,743.9 L117.7,743.8 L118.0,743.6 L118.4,743.5 L118.8,743.3 L119.2,743.1 L119.5,742.9 L119.9,742.7 L120.3,742.5 L120.7,742.3 L121.0,742.1 L121.4,741.8 L121.8,741.6 L122.2,741.3 L122.5,741.0 L122.9,740.8 L123.3,740.5 L123.7,740.2 L124.0,739.9 L124.4,739.5 L124.8,739.2 L125.1,738.9 L125.5,738.5 L125.9,738.1 L126.3,737.8 L126.6,737.4 L127.0,737.0 L127.4,736.6 L127.8,736.2 L128.1,735.8 L128.5,735.3 L128.9,734.9 L129.3,734.4 L129.6,734.0 L130.0,733.5 L130.4,733.0 L130.8,732.5 L131.1,732.0 L131.5,731.5 L131.9,731.0 L132.3,730.5 L132.6,729.9 L133.0,729.4 L133.4,728.8 L133.7,728.2 L134.1,727.6 L134.5,727.0 L134.9,726.4 L135.2,725.8 L135.6,725.2 L136.0,724.5 L136.4,723.9 L136.7,723.2 L137.1,722.5 L137.5,721.8 L137.9,721.1 L138.2,720.4 L138.6,719.7 L139.0,718.9 L139.4,718.2 L139.7,717.4 L140.1,716.6 L140.5,715.8 L140.9,715.0 L141.2,714.2 L141.6,713.3 L142.0,712.5 L142.3,711.6 L142.7,710.7 L143.1,709.8 L143.5,708.9 L143.8,708.0 L144.2,707.0 L144.6,706.1 L145.0,705.1 L145.3,704.1 L145.7,703.1 L146.1,702.1 L146.5,701.0 L146.8,700.0 L147.2,698.9 L147.6,697.8 L148.0,696.7 L148.3,695.6 L148.7,694.5 L149.1,693.3 L149.5,692.2 L149.8,691.0 L150.2,689.8 L150.6,688.6 L150.9,687.4 L151.3,686.1 L151.7,684.9 L152.1,683.6 L152.4,682.3 L152.8,681.0 L153.2,679.7 L153.6,678.4 L153.9,677.1 L154.3,675.7 L154.7,674.4 L155.1,673.0 L155.4,671.6 L155.8,670.2 L156.2,668.8 L156.6,667.4 L156.9,666.0 L157.3,664.5 L157.7,663.1 L158.1,661.6 L158.4,660.1 L158.8,658.6 L159.2,657.2 L159.5,655.6 L159.9,654.1 L160.3,652.6 L160.7,651.1 L161.0,649.5 L161.4,648.0 L161.8,646.4 L162.2,644.8 L162.5,643.2 L162.9,641.7 L163.3,640.0 L163.7,638.4 L164.0,636.8 L164.4,635.2 L164.8,633.5 L165.2,631.9 L165.5,630.2 L165.9,628.5 L166.3,626.8 L166.7,625.1 L167.0,623.4 L167.4,621.7 L167.8,620.0 L168.1,618.3 L168.5,616.5 L168.9,614.7 L169.3,613.0 L169.6,611.2 L170.0,609.4 L170.4,607.6 L170.8,605.8 L171.1,604.0 L171.5,602.2 L171.9,600.3 L172.3,598.5 L172.6,596.7 L173.0,594.8 L173.4,593.0 L173.8,591.1 L174.1,589.3 L174.5,587.4 L174.9,585.6 L175.3,583.7 L175.6,581.8 L176.0,580.0" stroke="#000000" stroke-width="3.6"/>
</g>
<path d="M157.4,1019.3v-5.0M157.4,582.4v5.0M64.2,956.9h5.0M176.0,956.9h-5.0M64.2,894.5h5.0M176.0,894.5h-5.0M64.2,832.1h5.0M176.0,832.1h-5.0M64.2,769.6h5.0M176.0,769.6h-5.0M64.2,707.2h5.0M176.0,707.2h-5.0M64.2,644.8h5.0M176.0,644.8h-5.0" stroke="#1a1a1a" stroke-width="1.2" fill="none"/>
<rect x="64.2" y="582.4" width="111.8" height="436.9" fill="none" stroke="#1a1a1a" stroke-width="1.5"/>
<text x="59.0" y="1025.2" text-anchor="end" font-size="16.6" font-family="Liberation Sans, Arial, sans-serif" fill="#1a1a1a">–<tspan dx="0.4">6</tspan></text>
<text x="59.0" y="962.8" text-anchor="end" font-size="16.6" font-family="Liberation Sans, Arial, sans-serif" fill="#1a1a1a">–<tspan dx="0.4">5</tspan></text>
<text x="59.0" y="900.4" text-anchor="end" font-size="16.6" font-family="Liberation Sans, Arial, sans-serif" fill="#1a1a1a">–<tspan dx="0.4">4</tspan></text>
<text x="59.0" y="838.0" text-anchor="end" font-size="16.6" font-family="Liberation Sans, Arial, sans-serif" fill="#1a1a1a">–<tspan dx="0.4">3</tspan></text>
<text x="59.0" y="775.5" text-anchor="end" font-size="16.6" font-family="Liberation Sans, Arial, sans-serif" fill="#1a1a1a">–<tspan dx="0.4">2</tspan></text>
<text x="59.0" y="713.1" text-anchor="end" font-size="16.6" font-family="Liberation Sans, Arial, sans-serif" fill="#1a1a1a">–<tspan dx="0.4">1</tspan></text>
<text x="59.0" y="650.7" text-anchor="end" font-size="16.6" font-family="Liberation Sans, Arial, sans-serif" fill="#1a1a1a">0</text>
<text x="59.0" y="588.3" text-anchor="end" font-size="16.6" font-family="Liberation Sans, Arial, sans-serif" fill="#1a1a1a">1</text>
<text x="64.2" y="1036.9" text-anchor="middle" font-size="16.6" font-family="Liberation Sans, Arial, sans-serif" fill="#1a1a1a">0</text>
<text x="157.4" y="1036.9" text-anchor="middle" font-size="16.6" font-family="Liberation Sans, Arial, sans-serif" fill="#1a1a1a">0.5</text>
<clipPath id="c3"><rect x="211.3" y="582.4" width="111.7" height="436.9"/></clipPath>
<path d="M267.1,582.4V1019.3M211.3,946.5H323.0M211.3,873.7H323.0M211.3,800.8H323.0M211.3,728.0H323.0M211.3,655.2H323.0" stroke="#d2d2d2" stroke-width="0.9" fill="none"/>
<g clip-path="url(#c3)" fill="none" stroke-linejoin="round">
<path d="M211.3,821.0 L211.7,818.0 L212.0,814.9 L212.4,811.9 L212.8,808.9 L213.2,805.9 L213.5,802.9 L213.9,800.0 L214.3,797.0 L214.7,794.1 L215.0,791.2 L215.4,788.3 L215.8,785.4 L216.2,782.6 L216.5,779.7 L216.9,776.9 L217.3,774.1 L217.7,771.3 L218.0,768.5 L218.4,765.7 L218.8,763.0 L219.1,760.3 L219.5,757.5 L219.9,754.9 L220.3,752.2 L220.6,749.5 L221.0,746.9 L221.4,744.3 L221.8,741.7 L222.1,739.1 L222.5,736.5 L222.9,734.0 L223.3,731.4 L223.6,728.9 L224.0,726.4 L224.4,724.0 L224.7,721.5 L225.1,719.1 L225.5,716.7 L225.9,714.3 L226.2,711.9 L226.6,709.5 L227.0,707.2 L227.4,704.9 L227.7,702.6 L228.1,700.3 L228.5,698.1 L228.9,695.8 L229.2,693.6 L229.6,691.4 L230.0,689.3 L230.4,687.1 L230.7,685.0 L231.1,682.9 L231.5,680.8 L231.8,678.7 L232.2,676.7 L232.6,674.7 L233.0,672.7 L233.3,670.7 L233.7,668.7 L234.1,666.8 L234.5,664.9 L234.8,663.0 L235.2,661.1 L235.6,659.3 L236.0,657.4 L236.3,655.6 L236.7,653.9 L237.1,652.1 L237.5,650.4 L237.8,648.7 L238.2,647.0 L238.6,645.3 L238.9,643.7 L239.3,642.0 L239.7,640.4 L240.1,638.9 L240.4,637.3 L240.8,635.8 L241.2,634.3 L241.6,632.8 L241.9,631.3 L242.3,629.9 L242.7,628.5 L243.1,627.1 L243.4,625.7 L243.8,624.4 L244.2,623.1 L244.5,621.8 L244.9,620.5 L245.3,619.3 L245.7,618.1 L246.0,616.9 L246.4,615.7 L246.8,614.6 L247.2,613.5 L247.5,612.4 L247.9,611.3 L248.3,610.2 L248.7,609.2 L249.0,608.2 L249.4,607.3 L249.8,606.3 L250.2,605.4 L250.5,604.5 L250.9,603.6 L251.3,602.8 L251.6,602.0 L252.0,601.2 L252.4,600.4 L252.8,599.7 L253.1,598.9 L253.5,598.2 L253.9,597.6 L254.3,596.9 L254.6,596.3 L255.0,595.7 L255.4,595.2 L255.8,594.6 L256.1,594.1 L256.5,593.6 L256.9,593.2 L257.3,592.7 L257.6,592.3 L258.0,591.9 L258.4,591.6 L258.7,591.2 L259.1,590.9 L259.5,590.6 L259.9,590.4 L260.2,590.1 L260.6,589.9 L261.0,589.8 L261.4,589.6 L261.7,589.5 L262.1,589.4 L262.5,589.3 L262.9,589.3 L263.2,589.2 L263.6,589.3 L264.0,589.3 L264.3,589.3 L264.7,589.4 L265.1,589.5 L265.5,589.7 L265.8,589.8 L266.2,590.0 L266.6,590.2 L267.0,590.5 L267.3,590.7 L267.7,591.0 L268.1,591.4 L268.5,591.7 L268.8,592.1 L269.2,592.5 L269.6,592.9 L270.0,593.4 L270.3,593.8 L270.7,594.3 L271.1,594.9 L271.4,595.4 L271.8,596.0 L272.2,596.6 L272.6,597.2 L272.9,597.9 L273.3,598.6 L273.7,599.3 L274.1,600.0 L274.4,600.8 L274.8,601.6 L275.2,602.4 L275.6,603.3 L275.9,604.1 L276.3,605.0 L276.7,605.9 L277.0,606.9 L277.4,607.9 L277.8,608.9 L278.2,609.9 L278.5,610.9 L278.9,612.0 L279.3,613.1 L279.7,614.2 L280.0,615.4 L280.4,616.6 L280.8,617.8 L281.2,619.0 L281.5,620.3 L281.9,621.5 L282.3,622.9 L282.7,624.2 L283.0,625.5 L283.4,626.9 L283.8,628.3 L284.1,629.8 L284.5,631.2 L284.9,632.7 L285.3,634.2 L285.6,635.7 L286.0,637.3 L286.4,638.9 L286.8,640.5 L287.1,642.1 L287.5,643.8 L287.9,645.5 L288.3,647.2 L288.6,648.9 L289.0,650.7 L289.4,652.4 L289.8,654.2 L290.1,656.1 L290.5,657.9 L290.9,659.8 L291.2,661.7 L291.6,663.6 L292.0,665.6 L292.4,667.5 L292.7,669.5 L293.1,671.6 L293.5,673.6 L293.9,675.7 L294.2,677.8 L294.6,679.9 L295.0,682.0 L295.4,684.2 L295.7,686.4 L296.1,688.6 L296.5,690.8 L296.8,693.1 L297.2,695.3 L297.6,697.6 L298.0,700.0 L298.3,702.3 L298.7,704.7 L299.1,707.1 L299.5,709.5 L299.8,711.9 L300.2,714.4 L300.6,716.8 L301.0,719.3 L301.3,721.9 L301.7,724.4 L302.1,727.0 L302.5,729.6 L302.8,732.2 L303.2,734.8 L303.6,737.4 L303.9,740.1 L304.3,742.8 L304.7,745.5 L305.1,748.3 L305.4,751.0 L305.8,753.8 L306.2,756.6 L306.6,759.4 L306.9,762.2 L307.3,765.1 L307.7,768.0 L308.1,770.9 L308.4,773.8 L308.8,776.7 L309.2,779.7 L309.6,782.7 L309.9,785.7 L310.3,788.7 L310.7,791.7 L311.0,794.8 L311.4,797.9 L311.8,801.0 L312.2,804.1 L312.5,807.2 L312.9,810.3 L313.3,813.5 L313.7,816.7 L314.0,819.9 L314.4,823.1 L314.8,826.4 L315.2,829.6 L315.5,832.9 L315.9,836.2 L316.3,839.5 L316.6,842.8 L317.0,846.2 L317.4,849.5 L317.8,852.9 L318.1,856.3 L318.5,859.7 L318.9,863.2 L319.3,866.6 L319.6,870.1 L320.0,873.5 L320.4,877.0 L320.8,880.5 L321.1,884.1 L321.5,887.6 L321.9,891.2 L322.3,894.7 L322.6,898.3 L323.0,901.9" stroke="#666666" stroke-width="4.7" stroke-dasharray="10 8"/>
<path d="M211.3,821.0 L211.7,818.0 L212.0,814.9 L212.4,811.9 L212.8,808.9 L213.2,805.9 L213.5,802.9 L213.9,800.0 L214.3,797.0 L214.7,794.1 L215.0,791.2 L215.4,788.3 L215.8,785.4 L216.2,782.6 L216.5,779.7 L216.9,776.9 L217.3,774.1 L217.7,771.3 L218.0,768.5 L218.4,765.7 L218.8,763.0 L219.1,760.3 L219.5,757.5 L219.9,754.9 L220.3,752.2 L220.6,749.5 L221.0,746.9 L221.4,744.3 L221.8,741.7 L222.1,739.1 L222.5,736.5 L222.9,734.0 L223.3,731.4 L223.6,728.9 L224.0,726.4 L224.4,724.0 L224.7,721.5 L225.1,719.1 L225.5,716.7 L225.9,714.3 L226.2,711.9 L226.6,709.5 L227.0,707.2 L227.4,704.9 L227.7,702.6 L228.1,700.3 L228.5,698.1 L228.9,695.8 L229.2,693.6 L229.6,691.4 L230.0,689.3 L230.4,687.1 L230.7,685.0 L231.1,682.9 L231.5,680.8 L231.8,678.7 L232.2,676.7 L232.6,674.7 L233.0,672.7 L233.3,670.7 L233.7,668.7 L234.1,666.8 L234.5,664.9 L234.8,663.0 L235.2,661.1 L235.6,659.3 L236.0,657.4 L236.3,655.6 L236.7,653.9 L237.1,652.1 L237.5,650.4 L237.8,648.7 L238.2,647.0 L238.6,645.3 L238.9,643.7 L239.3,642.0 L239.7,640.4 L240.1,638.9 L240.4,637.3 L240.8,635.8 L241.2,634.3 L241.6,632.8 L241.9,631.3 L242.3,629.9 L242.7,628.5 L243.1,627.1 L243.4,625.7 L243.8,624.4 L244.2,623.1 L244.5,621.8 L244.9,620.5 L245.3,619.3 L245.7,618.1 L246.0,616.9 L246.4,615.7 L246.8,614.6 L247.2,613.5 L247.5,612.4 L247.9,611.3 L248.3,610.2 L248.7,609.2 L249.0,608.2 L249.4,607.3 L249.8,606.3 L250.2,605.4 L250.5,604.5 L250.9,603.6 L251.3,602.8 L251.6,602.0 L252.0,601.2 L252.4,600.4 L252.8,599.7 L253.1,598.9 L253.5,598.2 L253.9,597.6 L254.3,596.9 L254.6,596.3 L255.0,595.7 L255.4,595.2 L255.8,594.6 L256.1,594.1 L256.5,593.6 L256.9,593.2 L257.3,592.7 L257.6,592.3 L258.0,591.9 L258.4,591.6 L258.7,591.2 L259.1,590.9 L259.5,590.6 L259.9,590.4 L260.2,590.1 L260.6,589.9 L261.0,589.8 L261.4,589.6 L261.7,589.5 L262.1,589.4 L262.5,589.3 L262.9,589.3 L263.2,589.2 L263.6,589.3 L264.0,589.3 L264.3,589.3 L264.7,589.4 L265.1,589.5 L265.5,589.7 L265.8,589.8 L266.2,590.0 L266.6,590.2 L267.0,590.5 L267.3,590.7 L267.7,591.0 L268.1,591.4 L268.5,591.7 L268.8,592.1 L269.2,592.5 L269.6,592.9 L270.0,593.4 L270.3,593.8 L270.7,594.3 L271.1,594.9 L271.4,595.4 L271.8,596.0 L272.2,596.6 L272.6,597.2 L272.9,597.9 L273.3,598.6 L273.7,599.3 L274.1,600.0 L274.4,600.8 L274.8,601.6 L275.2,602.4 L275.6,603.3 L275.9,604.1 L276.3,605.0 L276.7,605.9 L277.0,606.9 L277.4,607.9 L277.8,608.9 L278.2,609.9 L278.5,610.9 L278.9,612.0 L279.3,613.1 L279.7,614.2 L280.0,615.4 L280.4,616.6 L280.8,617.8 L281.2,619.0 L281.5,620.3 L281.9,621.5 L282.3,622.9 L282.7,624.2 L283.0,625.5 L283.4,626.9 L283.8,628.3 L284.1,629.8 L284.5,631.2 L284.9,632.7 L285.3,634.2 L285.6,635.7 L286.0,637.3 L286.4,638.9 L286.8,640.5 L287.1,642.1 L287.5,643.8 L287.9,645.5 L288.3,647.2 L288.6,648.9 L289.0,650.7 L289.4,652.4 L289.8,654.2 L290.1,656.1 L290.5,657.9 L290.9,659.8 L291.2,661.7 L291.6,663.6 L292.0,665.6 L292.4,667.5 L292.7,669.5 L293.1,671.6 L293.5,673.6 L293.9,675.7 L294.2,677.8 L294.6,679.9 L295.0,682.0 L295.4,684.2 L295.7,686.4 L296.1,688.6 L296.5,690.8 L296.8,693.1 L297.2,695.3 L297.6,697.6 L298.0,700.0 L298.3,702.3 L298.7,704.7 L299.1,707.1 L299.5,709.5 L299.8,711.9 L300.2,714.4 L300.6,716.8 L301.0,719.3 L301.3,721.9 L301.7,724.4 L302.1,727.0 L302.5,729.6 L302.8,732.2 L303.2,734.8 L303.6,737.4 L303.9,740.1 L304.3,742.8 L304.7,745.5 L305.1,748.3 L305.4,751.0 L305.8,753.8 L306.2,756.6 L306.6,759.4 L306.9,762.2 L307.3,765.1 L307.7,768.0 L308.1,770.9 L308.4,773.8 L308.8,776.7 L309.2,779.7 L309.6,782.7 L309.9,785.7 L310.3,788.7 L310.7,791.7 L311.0,794.8 L311.4,797.9 L311.8,801.0 L312.2,804.1 L312.5,807.2 L312.9,810.3 L313.3,813.5 L313.7,816.7 L314.0,819.9 L314.4,823.1 L314.8,826.4 L315.2,829.6 L315.5,832.9 L315.9,836.2 L316.3,839.5 L316.6,842.8 L317.0,846.2 L317.4,849.5 L317.8,852.9 L318.1,856.3 L318.5,859.7 L318.9,863.2 L319.3,866.6 L319.6,870.1 L320.0,873.5 L320.4,877.0 L320.8,880.5 L321.1,884.1 L321.5,887.6 L321.9,891.2 L322.3,894.7 L322.6,898.3 L323.0,901.9" stroke="#ff0000" stroke-width="3.6"/>
<path d="M211.3,823.9 L211.7,820.9 L212.0,818.0 L212.4,815.0 L212.8,812.1 L213.2,809.2 L213.5,806.3 L213.9,803.4 L214.3,800.5 L214.7,797.6 L215.0,794.8 L215.4,792.0 L215.8,789.2 L216.2,786.4 L216.5,783.6 L216.9,780.8 L217.3,778.1 L217.7,775.4 L218.0,772.7 L218.4,770.0 L218.8,767.3 L219.1,764.6 L219.5,762.0 L219.9,759.4 L220.3,756.8 L220.6,754.2 L221.0,751.6 L221.4,749.1 L221.8,746.5 L222.1,744.0 L222.5,741.5 L222.9,739.0 L223.3,736.6 L223.6,734.1 L224.0,731.7 L224.4,729.3 L224.7,726.9 L225.1,724.6 L225.5,722.2 L225.9,719.9 L226.2,717.6 L226.6,715.3 L227.0,713.0 L227.4,710.8 L227.7,708.6 L228.1,706.3 L228.5,704.2 L228.9,702.0 L229.2,699.8 L229.6,697.7 L230.0,695.6 L230.4,693.5 L230.7,691.5 L231.1,689.4 L231.5,687.4 L231.8,685.4 L232.2,683.4 L232.6,681.5 L233.0,679.5 L233.3,677.6 L233.7,675.7 L234.1,673.8 L234.5,672.0 L234.8,670.2 L235.2,668.4 L235.6,666.6 L236.0,664.8 L236.3,663.1 L236.7,661.4 L237.1,659.7 L237.5,658.0 L237.8,656.3 L238.2,654.7 L238.6,653.1 L238.9,651.5 L239.3,650.0 L239.7,648.4 L240.1,646.9 L240.4,645.4 L240.8,643.9 L241.2,642.5 L241.6,641.1 L241.9,639.7 L242.3,638.3 L242.7,637.0 L243.1,635.6 L243.4,634.3 L243.8,633.0 L244.2,631.8 L244.5,630.5 L244.9,629.3 L245.3,628.2 L245.7,627.0 L246.0,625.9 L246.4,624.7 L246.8,623.7 L247.2,622.6 L247.5,621.6 L247.9,620.5 L248.3,619.5 L248.7,618.6 L249.0,617.6 L249.4,616.7 L249.8,615.8 L250.2,615.0 L250.5,614.1 L250.9,613.3 L251.3,612.5 L251.6,611.7 L252.0,611.0 L252.4,610.3 L252.8,609.6 L253.1,608.9 L253.5,608.3 L253.9,607.6 L254.3,607.0 L254.6,606.5 L255.0,605.9 L255.4,605.4 L255.8,604.9 L256.1,604.5 L256.5,604.0 L256.9,603.6 L257.3,603.2 L257.6,602.8 L258.0,602.5 L258.4,602.2 L258.7,601.9 L259.1,601.6 L259.5,601.4 L259.9,601.2 L260.2,601.0 L260.6,600.8 L261.0,600.7 L261.4,600.6 L261.7,600.5 L262.1,600.4 L262.5,600.4 L262.9,600.4 L263.2,600.4 L263.6,600.5 L264.0,600.5 L264.3,600.6 L264.7,600.8 L265.1,600.9 L265.5,601.1 L265.8,601.3 L266.2,601.5 L266.6,601.7 L267.0,602.0 L267.3,602.3 L267.7,602.7 L268.1,603.0 L268.5,603.4 L268.8,603.8 L269.2,604.2 L269.6,604.7 L270.0,605.2 L270.3,605.7 L270.7,606.2 L271.1,606.8 L271.4,607.4 L271.8,608.0 L272.2,608.6 L272.6,609.3 L272.9,610.0 L273.3,610.7 L273.7,611.4 L274.1,612.2 L274.4,613.0 L274.8,613.8 L275.2,614.6 L275.6,615.5 L275.9,616.4 L276.3,617.3 L276.7,618.3 L277.0,619.2 L277.4,620.2 L277.8,621.3 L278.2,622.3 L278.5,623.4 L278.9,624.5 L279.3,625.6 L279.7,626.7 L280.0,627.9 L280.4,629.1 L280.8,630.3 L281.2,631.6 L281.5,632.9 L281.9,634.2 L282.3,635.5 L282.7,636.8 L283.0,638.2 L283.4,639.6 L283.8,641.0 L284.1,642.5 L284.5,644.0 L284.9,645.4 L285.3,647.0 L285.6,648.5 L286.0,650.1 L286.4,651.7 L286.8,653.3 L287.1,654.9 L287.5,656.6 L287.9,658.3 L288.3,660.0 L288.6,661.8 L289.0,663.5 L289.4,665.3 L289.8,667.1 L290.1,669.0 L290.5,670.8 L290.9,672.7 L291.2,674.6 L291.6,676.5 L292.0,678.5 L292.4,680.5 L292.7,682.5 L293.1,684.5 L293.5,686.5 L293.9,688.6 L294.2,690.7 L294.6,692.8 L295.0,695.0 L295.4,697.1 L295.7,699.3 L296.1,701.5 L296.5,703.8 L296.8,706.0 L297.2,708.3 L297.6,710.6 L298.0,712.9 L298.3,715.2 L298.7,717.6 L299.1,720.0 L299.5,722.4 L299.8,724.8 L300.2,727.3 L300.6,729.7 L301.0,732.2 L301.3,734.8 L301.7,737.3 L302.1,739.8 L302.5,742.4 L302.8,745.0 L303.2,747.6 L303.6,750.3 L303.9,753.0 L304.3,755.6 L304.7,758.3 L305.1,761.1 L305.4,763.8 L305.8,766.6 L306.2,769.4 L306.6,772.2 L306.9,775.0 L307.3,777.8 L307.7,780.7 L308.1,783.6 L308.4,786.5 L308.8,789.4 L309.2,792.3 L309.6,795.3 L309.9,798.3 L310.3,801.3 L310.7,804.3 L311.0,807.3 L311.4,810.4 L311.8,813.5 L312.2,816.6 L312.5,819.7 L312.9,822.8 L313.3,825.9 L313.7,829.1 L314.0,832.3 L314.4,835.5 L314.8,838.7 L315.2,841.9 L315.5,845.2 L315.9,848.4 L316.3,851.7 L316.6,855.0 L317.0,858.4 L317.4,861.7 L317.8,865.0 L318.1,868.4 L318.5,871.8 L318.9,875.2 L319.3,878.6 L319.6,882.0 L320.0,885.5 L320.4,888.9 L320.8,892.4 L321.1,895.9 L321.5,899.4 L321.9,903.0 L322.3,906.5 L322.6,910.0 L323.0,913.6" stroke="#00ff00" stroke-width="3.6"/>
<path d="M211.3,829.9 L211.7,827.0 L212.0,824.2 L212.4,821.3 L212.8,818.5 L213.2,815.6 L213.5,812.8 L213.9,810.0 L214.3,807.3 L214.7,804.5 L215.0,801.8 L215.4,799.0 L215.8,796.3 L216.2,793.6 L216.5,790.9 L216.9,788.3 L217.3,785.6 L217.7,783.0 L218.0,780.4 L218.4,777.8 L218.8,775.2 L219.1,772.7 L219.5,770.1 L219.9,767.6 L220.3,765.1 L220.6,762.6 L221.0,760.1 L221.4,757.6 L221.8,755.2 L222.1,752.8 L222.5,750.4 L222.9,748.0 L223.3,745.6 L223.6,743.3 L224.0,741.0 L224.4,738.6 L224.7,736.4 L225.1,734.1 L225.5,731.8 L225.9,729.6 L226.2,727.4 L226.6,725.2 L227.0,723.0 L227.4,720.8 L227.7,718.7 L228.1,716.6 L228.5,714.5 L228.9,712.4 L229.2,710.4 L229.6,708.3 L230.0,706.3 L230.4,704.3 L230.7,702.3 L231.1,700.4 L231.5,698.4 L231.8,696.5 L232.2,694.6 L232.6,692.8 L233.0,690.9 L233.3,689.1 L233.7,687.3 L234.1,685.5 L234.5,683.7 L234.8,682.0 L235.2,680.2 L235.6,678.5 L236.0,676.9 L236.3,675.2 L236.7,673.6 L237.1,672.0 L237.5,670.4 L237.8,668.8 L238.2,667.2 L238.6,665.7 L238.9,664.2 L239.3,662.7 L239.7,661.3 L240.1,659.8 L240.4,658.4 L240.8,657.0 L241.2,655.7 L241.6,654.3 L241.9,653.0 L242.3,651.7 L242.7,650.4 L243.1,649.2 L243.4,647.9 L243.8,646.7 L244.2,645.5 L244.5,644.4 L244.9,643.3 L245.3,642.1 L245.7,641.0 L246.0,640.0 L246.4,638.9 L246.8,637.9 L247.2,636.9 L247.5,636.0 L247.9,635.0 L248.3,634.1 L248.7,633.2 L249.0,632.3 L249.4,631.5 L249.8,630.6 L250.2,629.8 L250.5,629.1 L250.9,628.3 L251.3,627.6 L251.6,626.9 L252.0,626.2 L252.4,625.5 L252.8,624.9 L253.1,624.3 L253.5,623.7 L253.9,623.1 L254.3,622.6 L254.6,622.1 L255.0,621.6 L255.4,621.1 L255.8,620.7 L256.1,620.3 L256.5,619.9 L256.9,619.6 L257.3,619.2 L257.6,618.9 L258.0,618.6 L258.4,618.4 L258.7,618.1 L259.1,617.9 L259.5,617.7 L259.9,617.6 L260.2,617.4 L260.6,617.3 L261.0,617.2 L261.4,617.2 L261.7,617.1 L262.1,617.1 L262.5,617.1 L262.9,617.2 L263.2,617.2 L263.6,617.3 L264.0,617.4 L264.3,617.6 L264.7,617.8 L265.1,617.9 L265.5,618.2 L265.8,618.4 L266.2,618.7 L266.6,619.0 L267.0,619.3 L267.3,619.6 L267.7,620.0 L268.1,620.4 L268.5,620.8 L268.8,621.2 L269.2,621.7 L269.6,622.2 L270.0,622.7 L270.3,623.3 L270.7,623.8 L271.1,624.4 L271.4,625.0 L271.8,625.7 L272.2,626.4 L272.6,627.0 L272.9,627.8 L273.3,628.5 L273.7,629.3 L274.1,630.1 L274.4,630.9 L274.8,631.7 L275.2,632.6 L275.6,633.5 L275.9,634.4 L276.3,635.4 L276.7,636.3 L277.0,637.3 L277.4,638.3 L277.8,639.4 L278.2,640.5 L278.5,641.5 L278.9,642.7 L279.3,643.8 L279.7,645.0 L280.0,646.2 L280.4,647.4 L280.8,648.6 L281.2,649.9 L281.5,651.2 L281.9,652.5 L282.3,653.8 L282.7,655.2 L283.0,656.6 L283.4,658.0 L283.8,659.4 L284.1,660.9 L284.5,662.3 L284.9,663.9 L285.3,665.4 L285.6,666.9 L286.0,668.5 L286.4,670.1 L286.8,671.7 L287.1,673.4 L287.5,675.1 L287.9,676.8 L288.3,678.5 L288.6,680.2 L289.0,682.0 L289.4,683.8 L289.8,685.6 L290.1,687.4 L290.5,689.3 L290.9,691.2 L291.2,693.1 L291.6,695.0 L292.0,696.9 L292.4,698.9 L292.7,700.9 L293.1,702.9 L293.5,705.0 L293.9,707.0 L294.2,709.1 L294.6,711.2 L295.0,713.3 L295.4,715.5 L295.7,717.7 L296.1,719.9 L296.5,722.1 L296.8,724.3 L297.2,726.6 L297.6,728.9 L298.0,731.2 L298.3,733.5 L298.7,735.8 L299.1,738.2 L299.5,740.6 L299.8,743.0 L300.2,745.4 L300.6,747.9 L301.0,750.3 L301.3,752.8 L301.7,755.4 L302.1,757.9 L302.5,760.4 L302.8,763.0 L303.2,765.6 L303.6,768.2 L303.9,770.9 L304.3,773.5 L304.7,776.2 L305.1,778.9 L305.4,781.6 L305.8,784.3 L306.2,787.1 L306.6,789.9 L306.9,792.7 L307.3,795.5 L307.7,798.3 L308.1,801.2 L308.4,804.0 L308.8,806.9 L309.2,809.8 L309.6,812.7 L309.9,815.7 L310.3,818.6 L310.7,821.6 L311.0,824.6 L311.4,827.6 L311.8,830.7 L312.2,833.7 L312.5,836.8 L312.9,839.9 L313.3,843.0 L313.7,846.1 L314.0,849.2 L314.4,852.4 L314.8,855.5 L315.2,858.7 L315.5,861.9 L315.9,865.2 L316.3,868.4 L316.6,871.6 L317.0,874.9 L317.4,878.2 L317.8,881.5 L318.1,884.8 L318.5,888.2 L318.9,891.5 L319.3,894.9 L319.6,898.2 L320.0,901.6 L320.4,905.0 L320.8,908.5 L321.1,911.9 L321.5,915.4 L321.9,918.8 L322.3,922.3 L322.6,925.8 L323.0,929.3" stroke="#0000ff" stroke-width="3.6"/>
<path d="M211.3,836.6 L211.7,833.9 L212.0,831.1 L212.4,828.4 L212.8,825.6 L213.2,822.9 L213.5,820.2 L213.9,817.5 L214.3,814.9 L214.7,812.2 L215.0,809.6 L215.4,807.0 L215.8,804.4 L216.2,801.8 L216.5,799.2 L216.9,796.7 L217.3,794.1 L217.7,791.6 L218.0,789.1 L218.4,786.6 L218.8,784.1 L219.1,781.7 L219.5,779.2 L219.9,776.8 L220.3,774.4 L220.6,772.0 L221.0,769.6 L221.4,767.3 L221.8,765.0 L222.1,762.6 L222.5,760.3 L222.9,758.1 L223.3,755.8 L223.6,753.6 L224.0,751.3 L224.4,749.1 L224.7,746.9 L225.1,744.8 L225.5,742.6 L225.9,740.5 L226.2,738.4 L226.6,736.3 L227.0,734.2 L227.4,732.1 L227.7,730.1 L228.1,728.1 L228.5,726.1 L228.9,724.1 L229.2,722.1 L229.6,720.2 L230.0,718.3 L230.4,716.4 L230.7,714.5 L231.1,712.7 L231.5,710.8 L231.8,709.0 L232.2,707.2 L232.6,705.4 L233.0,703.7 L233.3,701.9 L233.7,700.2 L234.1,698.5 L234.5,696.8 L234.8,695.2 L235.2,693.6 L235.6,692.0 L236.0,690.4 L236.3,688.8 L236.7,687.3 L237.1,685.7 L237.5,684.2 L237.8,682.7 L238.2,681.3 L238.6,679.8 L238.9,678.4 L239.3,677.0 L239.7,675.7 L240.1,674.3 L240.4,673.0 L240.8,671.7 L241.2,670.4 L241.6,669.1 L241.9,667.9 L242.3,666.7 L242.7,665.5 L243.1,664.3 L243.4,663.2 L243.8,662.1 L244.2,661.0 L244.5,659.9 L244.9,658.8 L245.3,657.8 L245.7,656.8 L246.0,655.8 L246.4,654.8 L246.8,653.9 L247.2,653.0 L247.5,652.1 L247.9,651.2 L248.3,650.3 L248.7,649.5 L249.0,648.7 L249.4,647.9 L249.8,647.2 L250.2,646.5 L250.5,645.8 L250.9,645.1 L251.3,644.4 L251.6,643.8 L252.0,643.2 L252.4,642.6 L252.8,642.0 L253.1,641.5 L253.5,641.0 L253.9,640.5 L254.3,640.0 L254.6,639.6 L255.0,639.1 L255.4,638.7 L255.8,638.4 L256.1,638.0 L256.5,637.7 L256.9,637.4 L257.3,637.1 L257.6,636.9 L258.0,636.6 L258.4,636.4 L258.7,636.3 L259.1,636.1 L259.5,636.0 L259.9,635.9 L260.2,635.8 L260.6,635.7 L261.0,635.7 L261.4,635.7 L261.7,635.7 L262.1,635.8 L262.5,635.8 L262.9,635.9 L263.2,636.0 L263.6,636.2 L264.0,636.3 L264.3,636.5 L264.7,636.8 L265.1,637.0 L265.5,637.3 L265.8,637.5 L266.2,637.9 L266.6,638.2 L267.0,638.6 L267.3,638.9 L267.7,639.3 L268.1,639.8 L268.5,640.2 L268.8,640.7 L269.2,641.2 L269.6,641.8 L270.0,642.3 L270.3,642.9 L270.7,643.5 L271.1,644.1 L271.4,644.8 L271.8,645.5 L272.2,646.2 L272.6,646.9 L272.9,647.7 L273.3,648.4 L273.7,649.2 L274.1,650.1 L274.4,650.9 L274.8,651.8 L275.2,652.7 L275.6,653.6 L275.9,654.5 L276.3,655.5 L276.7,656.5 L277.0,657.5 L277.4,658.6 L277.8,659.6 L278.2,660.7 L278.5,661.8 L278.9,663.0 L279.3,664.1 L279.7,665.3 L280.0,666.5 L280.4,667.8 L280.8,669.0 L281.2,670.3 L281.5,671.6 L281.9,672.9 L282.3,674.3 L282.7,675.7 L283.0,677.1 L283.4,678.5 L283.8,679.9 L284.1,681.4 L284.5,682.9 L284.9,684.4 L285.3,685.9 L285.6,687.5 L286.0,689.1 L286.4,690.7 L286.8,692.3 L287.1,694.0 L287.5,695.6 L287.9,697.3 L288.3,699.1 L288.6,700.8 L289.0,702.6 L289.4,704.4 L289.8,706.2 L290.1,708.0 L290.5,709.8 L290.9,711.7 L291.2,713.6 L291.6,715.5 L292.0,717.5 L292.4,719.5 L292.7,721.4 L293.1,723.5 L293.5,725.5 L293.9,727.5 L294.2,729.6 L294.6,731.7 L295.0,733.8 L295.4,736.0 L295.7,738.1 L296.1,740.3 L296.5,742.5 L296.8,744.7 L297.2,747.0 L297.6,749.2 L298.0,751.5 L298.3,753.8 L298.7,756.2 L299.1,758.5 L299.5,760.9 L299.8,763.3 L300.2,765.7 L300.6,768.1 L301.0,770.5 L301.3,773.0 L301.7,775.5 L302.1,778.0 L302.5,780.5 L302.8,783.1 L303.2,785.6 L303.6,788.2 L303.9,790.8 L304.3,793.5 L304.7,796.1 L305.1,798.8 L305.4,801.5 L305.8,804.2 L306.2,806.9 L306.6,809.6 L306.9,812.4 L307.3,815.1 L307.7,817.9 L308.1,820.7 L308.4,823.6 L308.8,826.4 L309.2,829.3 L309.6,832.2 L309.9,835.1 L310.3,838.0 L310.7,840.9 L311.0,843.9 L311.4,846.8 L311.8,849.8 L312.2,852.8 L312.5,855.9 L312.9,858.9 L313.3,861.9 L313.7,865.0 L314.0,868.1 L314.4,871.2 L314.8,874.3 L315.2,877.5 L315.5,880.6 L315.9,883.8 L316.3,887.0 L316.6,890.2 L317.0,893.4 L317.4,896.6 L317.8,899.8 L318.1,903.1 L318.5,906.4 L318.9,909.7 L319.3,913.0 L319.6,916.3 L320.0,919.6 L320.4,923.0 L320.8,926.3 L321.1,929.7 L321.5,933.1 L321.9,936.5 L322.3,939.9 L322.6,943.3 L323.0,946.8" stroke="#000000" stroke-width="3.6"/>
</g>
<path d="M267.1,1019.3v-5.0M267.1,582.4v5.0M211.3,946.5h5.0M323.0,946.5h-5.0M211.3,873.7h5.0M323.0,873.7h-5.0M211.3,800.8h5.0M323.0,800.8h-5.0M211.3,728.0h5.0M323.0,728.0h-5.0M211.3,655.2h5.0M323.0,655.2h-5.0" stroke="#1a1a1a" stroke-width="1.2" fill="none"/>
<rect x="211.3" y="582.4" width="111.7" height="436.9" fill="none" stroke="#1a1a1a" stroke-width="1.5"/>
<text x="206.1" y="1025.2" text-anchor="end" font-size="16.6" font-family="Liberation Sans, Arial, sans-serif" fill="#1a1a1a">4</text>
<text x="206.1" y="952.4" text-anchor="end" font-size="16.6" font-family="Liberation Sans, Arial, sans-serif" fill="#1a1a1a">5</text>
<text x="206.1" y="879.6" text-anchor="end" font-size="16.6" font-family="Liberation Sans, Arial, sans-serif" fill="#1a1a1a">6</text>
<text x="206.1" y="806.7" text-anchor="end" font-size="16.6" font-family="Liberation Sans, Arial, sans-serif" fill="#1a1a1a">7</text>
<text x="206.1" y="733.9" text-anchor="end" font-size="16.6" font-family="Liberation Sans, Arial, sans-serif" fill="#1a1a1a">8</text>
<text x="206.1" y="661.1" text-anchor="end" font-size="16.6" font-family="Liberation Sans, Arial, sans-serif" fill="#1a1a1a">9</text>
<text x="206.1" y="588.3" text-anchor="end" font-size="16.6" font-family="Liberation Sans, Arial, sans-serif" fill="#1a1a1a">10</text>
<text x="211.3" y="1036.9" text-anchor="middle" font-size="16.6" font-family="Liberation Sans, Arial, sans-serif" fill="#1a1a1a">1</text>
<text x="267.1" y="1036.9" text-anchor="middle" font-size="16.6" font-family="Liberation Sans, Arial, sans-serif" fill="#1a1a1a">1.5</text>
<text x="323.0" y="1036.9" text-anchor="middle" font-size="16.6" font-family="Liberation Sans, Arial, sans-serif" fill="#1a1a1a">2</text>
<clipPath id="c4"><rect x="360.5" y="582.4" width="110.0" height="436.9"/></clipPath>
<path d="M378.8,582.4V1019.3M424.7,582.4V1019.3M360.5,946.5H470.5M360.5,873.7H470.5M360.5,800.8H470.5M360.5,728.0H470.5M360.5,655.2H470.5" stroke="#d2d2d2" stroke-width="0.9" fill="none"/>
<g clip-path="url(#c4)" fill="none" stroke-linejoin="round">
<path d="M360.5,817.6 L360.9,820.9 L361.2,824.2 L361.6,827.5 L362.0,830.7 L362.3,834.0 L362.7,837.1 L363.1,840.3 L363.4,843.4 L363.8,846.5 L364.2,849.6 L364.5,852.6 L364.9,855.7 L365.3,858.6 L365.7,861.6 L366.0,864.5 L366.4,867.4 L366.8,870.3 L367.1,873.1 L367.5,875.9 L367.9,878.7 L368.2,881.4 L368.6,884.2 L369.0,886.8 L369.3,889.5 L369.7,892.1 L370.1,894.7 L370.4,897.3 L370.8,899.8 L371.2,902.3 L371.5,904.8 L371.9,907.2 L372.3,909.6 L372.6,912.0 L373.0,914.4 L373.4,916.7 L373.7,919.0 L374.1,921.2 L374.5,923.4 L374.8,925.6 L375.2,927.8 L375.6,929.9 L376.0,932.0 L376.3,934.1 L376.7,936.1 L377.1,938.1 L377.4,940.1 L377.8,942.0 L378.2,943.9 L378.5,945.8 L378.9,947.6 L379.3,949.4 L379.6,951.2 L380.0,952.9 L380.4,954.7 L380.7,956.3 L381.1,958.0 L381.5,959.6 L381.8,961.2 L382.2,962.7 L382.6,964.2 L382.9,965.7 L383.3,967.2 L383.7,968.6 L384.0,970.0 L384.4,971.4 L384.8,972.7 L385.1,974.0 L385.5,975.2 L385.9,976.5 L386.3,977.7 L386.6,978.8 L387.0,979.9 L387.4,981.0 L387.7,982.1 L388.1,983.1 L388.5,984.1 L388.8,985.1 L389.2,986.1 L389.6,987.0 L389.9,987.8 L390.3,988.7 L390.7,989.5 L391.0,990.3 L391.4,991.0 L391.8,991.7 L392.1,992.4 L392.5,993.1 L392.9,993.7 L393.2,994.3 L393.6,994.8 L394.0,995.3 L394.3,995.8 L394.7,996.3 L395.1,996.7 L395.4,997.1 L395.8,997.5 L396.2,997.8 L396.6,998.1 L396.9,998.4 L397.3,998.6 L397.7,998.9 L398.0,999.0 L398.4,999.2 L398.8,999.3 L399.1,999.4 L399.5,999.5 L399.9,999.5 L400.2,999.5 L400.6,999.4 L401.0,999.4 L401.3,999.3 L401.7,999.2 L402.1,999.0 L402.4,998.8 L402.8,998.6 L403.2,998.4 L403.5,998.1 L403.9,997.8 L404.3,997.5 L404.6,997.1 L405.0,996.7 L405.4,996.3 L405.8,995.9 L406.1,995.4 L406.5,994.9 L406.9,994.4 L407.2,993.8 L407.6,993.2 L408.0,992.6 L408.3,992.0 L408.7,991.3 L409.1,990.6 L409.4,989.9 L409.8,989.1 L410.2,988.3 L410.5,987.5 L410.9,986.7 L411.3,985.8 L411.6,984.9 L412.0,984.0 L412.4,983.1 L412.7,982.1 L413.1,981.1 L413.5,980.1 L413.8,979.1 L414.2,978.0 L414.6,976.9 L414.9,975.8 L415.3,974.6 L415.7,973.5 L416.1,972.3 L416.4,971.1 L416.8,969.8 L417.2,968.5 L417.5,967.3 L417.9,965.9 L418.3,964.6 L418.6,963.2 L419.0,961.9 L419.4,960.4 L419.7,959.0 L420.1,957.6 L420.5,956.1 L420.8,954.6 L421.2,953.1 L421.6,951.5 L421.9,950.0 L422.3,948.4 L422.7,946.8 L423.0,945.1 L423.4,943.5 L423.8,941.8 L424.1,940.1 L424.5,938.4 L424.9,936.7 L425.2,934.9 L425.6,933.1 L426.0,931.3 L426.4,929.5 L426.7,927.7 L427.1,925.8 L427.5,924.0 L427.8,922.1 L428.2,920.2 L428.6,918.3 L428.9,916.3 L429.3,914.3 L429.7,912.4 L430.0,910.4 L430.4,908.4 L430.8,906.3 L431.1,904.3 L431.5,902.2 L431.9,900.1 L432.2,898.0 L432.6,895.9 L433.0,893.8 L433.3,891.7 L433.7,889.5 L434.1,887.3 L434.4,885.1 L434.8,882.9 L435.2,880.7 L435.6,878.5 L435.9,876.2 L436.3,874.0 L436.7,871.7 L437.0,869.4 L437.4,867.1 L437.8,864.8 L438.1,862.5 L438.5,860.2 L438.9,857.8 L439.2,855.5 L439.6,853.1 L440.0,850.7 L440.3,848.3 L440.7,845.9 L441.1,843.5 L441.4,841.1 L441.8,838.6 L442.2,836.2 L442.5,833.7 L442.9,831.3 L443.3,828.8 L443.6,826.3 L444.0,823.8 L444.4,821.3 L444.7,818.8 L445.1,816.3 L445.5,813.8 L445.9,811.3 L446.2,808.7 L446.6,806.2 L447.0,803.6 L447.3,801.1 L447.7,798.5 L448.1,795.9 L448.4,793.3 L448.8,790.8 L449.2,788.2 L449.5,785.6 L449.9,783.0 L450.3,780.4 L450.6,777.8 L451.0,775.2 L451.4,772.6 L451.7,769.9 L452.1,767.3 L452.5,764.7 L452.8,762.1 L453.2,759.4 L453.6,756.8 L453.9,754.2 L454.3,751.5 L454.7,748.9 L455.0,746.2 L455.4,743.6 L455.8,741.0 L456.2,738.3 L456.5,735.7 L456.9,733.0 L457.3,730.4 L457.6,727.7 L458.0,725.1 L458.4,722.4 L458.7,719.8 L459.1,717.2 L459.5,714.5 L459.8,711.9 L460.2,709.2 L460.6,706.6 L460.9,704.0 L461.3,701.3 L461.7,698.7 L462.0,696.1 L462.4,693.5 L462.8,690.8 L463.1,688.2 L463.5,685.6 L463.9,683.0 L464.2,680.4 L464.6,677.8 L465.0,675.2 L465.3,672.6 L465.7,670.0 L466.1,667.4 L466.5,664.9 L466.8,662.3 L467.2,659.7 L467.6,657.2 L467.9,654.6 L468.3,652.1 L468.7,649.6 L469.0,647.0 L469.4,644.5 L469.8,642.0 L470.1,639.5 L470.5,637.0" stroke="#666666" stroke-width="4.7" stroke-dasharray="10 8"/>
<path d="M360.5,817.6 L360.9,820.9 L361.2,824.2 L361.6,827.5 L362.0,830.7 L362.3,834.0 L362.7,837.1 L363.1,840.3 L363.4,843.4 L363.8,846.5 L364.2,849.6 L364.5,852.6 L364.9,855.7 L365.3,858.6 L365.7,861.6 L366.0,864.5 L366.4,867.4 L366.8,870.3 L367.1,873.1 L367.5,875.9 L367.9,878.7 L368.2,881.4 L368.6,884.2 L369.0,886.8 L369.3,889.5 L369.7,892.1 L370.1,894.7 L370.4,897.3 L370.8,899.8 L371.2,902.3 L371.5,904.8 L371.9,907.2 L372.3,909.6 L372.6,912.0 L373.0,914.4 L373.4,916.7 L373.7,919.0 L374.1,921.2 L374.5,923.4 L374.8,925.6 L375.2,927.8 L375.6,929.9 L376.0,932.0 L376.3,934.1 L376.7,936.1 L377.1,938.1 L377.4,940.1 L377.8,942.0 L378.2,943.9 L378.5,945.8 L378.9,947.6 L379.3,949.4 L379.6,951.2 L380.0,952.9 L380.4,954.7 L380.7,956.3 L381.1,958.0 L381.5,959.6 L381.8,961.2 L382.2,962.7 L382.6,964.2 L382.9,965.7 L383.3,967.2 L383.7,968.6 L384.0,970.0 L384.4,971.4 L384.8,972.7 L385.1,974.0 L385.5,975.2 L385.9,976.5 L386.3,977.7 L386.6,978.8 L387.0,979.9 L387.4,981.0 L387.7,982.1 L388.1,983.1 L388.5,984.1 L388.8,985.1 L389.2,986.1 L389.6,987.0 L389.9,987.8 L390.3,988.7 L390.7,989.5 L391.0,990.3 L391.4,991.0 L391.8,991.7 L392.1,992.4 L392.5,993.1 L392.9,993.7 L393.2,994.3 L393.6,994.8 L394.0,995.3 L394.3,995.8 L394.7,996.3 L395.1,996.7 L395.4,997.1 L395.8,997.5 L396.2,997.8 L396.6,998.1 L396.9,998.4 L397.3,998.6 L397.7,998.9 L398.0,999.0 L398.4,999.2 L398.8,999.3 L399.1,999.4 L399.5,999.5 L399.9,999.5 L400.2,999.5 L400.6,999.4 L401.0,999.4 L401.3,999.3 L401.7,999.2 L402.1,999.0 L402.4,998.8 L402.8,998.6 L403.2,998.4 L403.5,998.1 L403.9,997.8 L404.3,997.5 L404.6,997.1 L405.0,996.7 L405.4,996.3 L405.8,995.9 L406.1,995.4 L406.5,994.9 L406.9,994.4 L407.2,993.8 L407.6,993.2 L408.0,992.6 L408.3,992.0 L408.7,991.3 L409.1,990.6 L409.4,989.9 L409.8,989.1 L410.2,988.3 L410.5,987.5 L410.9,986.7 L411.3,985.8 L411.6,984.9 L412.0,984.0 L412.4,983.1 L412.7,982.1 L413.1,981.1 L413.5,980.1 L413.8,979.1 L414.2,978.0 L414.6,976.9 L414.9,975.8 L415.3,974.6 L415.7,973.5 L416.1,972.3 L416.4,971.1 L416.8,969.8 L417.2,968.5 L417.5,967.3 L417.9,965.9 L418.3,964.6 L418.6,963.2 L419.0,961.9 L419.4,960.4 L419.7,959.0 L420.1,957.6 L420.5,956.1 L420.8,954.6 L421.2,953.1 L421.6,951.5 L421.9,950.0 L422.3,948.4 L422.7,946.8 L423.0,945.1 L423.4,943.5 L423.8,941.8 L424.1,940.1 L424.5,938.4 L424.9,936.7 L425.2,934.9 L425.6,933.1 L426.0,931.3 L426.4,929.5 L426.7,927.7 L427.1,925.8 L427.5,924.0 L427.8,922.1 L428.2,920.2 L428.6,918.3 L428.9,916.3 L429.3,914.3 L429.7,912.4 L430.0,910.4 L430.4,908.4 L430.8,906.3 L431.1,904.3 L431.5,902.2 L431.9,900.1 L432.2,898.0 L432.6,895.9 L433.0,893.8 L433.3,891.7 L433.7,889.5 L434.1,887.3 L434.4,885.1 L434.8,882.9 L435.2,880.7 L435.6,878.5 L435.9,876.2 L436.3,874.0 L436.7,871.7 L437.0,869.4 L437.4,867.1 L437.8,864.8 L438.1,862.5 L438.5,860.2 L438.9,857.8 L439.2,855.5 L439.6,853.1 L440.0,850.7 L440.3,848.3 L440.7,845.9 L441.1,843.5 L441.4,841.1 L441.8,838.6 L442.2,836.2 L442.5,833.7 L442.9,831.3 L443.3,828.8 L443.6,826.3 L444.0,823.8 L444.4,821.3 L444.7,818.8 L445.1,816.3 L445.5,813.8 L445.9,811.3 L446.2,808.7 L446.6,806.2 L447.0,803.6 L447.3,801.1 L447.7,798.5 L448.1,795.9 L448.4,793.3 L448.8,790.8 L449.2,788.2 L449.5,785.6 L449.9,783.0 L450.3,780.4 L450.6,777.8 L451.0,775.2 L451.4,772.6 L451.7,769.9 L452.1,767.3 L452.5,764.7 L452.8,762.1 L453.2,759.4 L453.6,756.8 L453.9,754.2 L454.3,751.5 L454.7,748.9 L455.0,746.2 L455.4,743.6 L455.8,741.0 L456.2,738.3 L456.5,735.7 L456.9,733.0 L457.3,730.4 L457.6,727.7 L458.0,725.1 L458.4,722.4 L458.7,719.8 L459.1,717.2 L459.5,714.5 L459.8,711.9 L460.2,709.2 L460.6,706.6 L460.9,704.0 L461.3,701.3 L461.7,698.7 L462.0,696.1 L462.4,693.5 L462.8,690.8 L463.1,688.2 L463.5,685.6 L463.9,683.0 L464.2,680.4 L464.6,677.8 L465.0,675.2 L465.3,672.6 L465.7,670.0 L466.1,667.4 L466.5,664.9 L466.8,662.3 L467.2,659.7 L467.6,657.2 L467.9,654.6 L468.3,652.1 L468.7,649.6 L469.0,647.0 L469.4,644.5 L469.8,642.0 L470.1,639.5 L470.5,637.0" stroke="#ff0000" stroke-width="3.6"/>
<path d="M360.5,813.7 L360.9,816.9 L361.2,820.1 L361.6,823.3 L362.0,826.5 L362.3,829.6 L362.7,832.7 L363.1,835.8 L363.4,838.8 L363.8,841.9 L364.2,844.8 L364.5,847.8 L364.9,850.7 L365.3,853.6 L365.7,856.5 L366.0,859.4 L366.4,862.2 L366.8,865.0 L367.1,867.7 L367.5,870.5 L367.9,873.2 L368.2,875.8 L368.6,878.5 L369.0,881.1 L369.3,883.7 L369.7,886.2 L370.1,888.7 L370.4,891.2 L370.8,893.7 L371.2,896.1 L371.5,898.5 L371.9,900.9 L372.3,903.2 L372.6,905.5 L373.0,907.8 L373.4,910.0 L373.7,912.2 L374.1,914.4 L374.5,916.6 L374.8,918.7 L375.2,920.8 L375.6,922.8 L376.0,924.9 L376.3,926.9 L376.7,928.8 L377.1,930.8 L377.4,932.7 L377.8,934.5 L378.2,936.4 L378.5,938.2 L378.9,939.9 L379.3,941.7 L379.6,943.4 L380.0,945.1 L380.4,946.7 L380.7,948.3 L381.1,949.9 L381.5,951.5 L381.8,953.0 L382.2,954.5 L382.6,956.0 L382.9,957.4 L383.3,958.8 L383.7,960.1 L384.0,961.5 L384.4,962.8 L384.8,964.0 L385.1,965.3 L385.5,966.5 L385.9,967.7 L386.3,968.8 L386.6,969.9 L387.0,971.0 L387.4,972.0 L387.7,973.0 L388.1,974.0 L388.5,975.0 L388.8,975.9 L389.2,976.8 L389.6,977.6 L389.9,978.5 L390.3,979.3 L390.7,980.0 L391.0,980.7 L391.4,981.4 L391.8,982.1 L392.1,982.8 L392.5,983.4 L392.9,983.9 L393.2,984.5 L393.6,985.0 L394.0,985.5 L394.3,985.9 L394.7,986.3 L395.1,986.7 L395.4,987.1 L395.8,987.4 L396.2,987.7 L396.6,988.0 L396.9,988.2 L397.3,988.4 L397.7,988.6 L398.0,988.7 L398.4,988.8 L398.8,988.9 L399.1,989.0 L399.5,989.0 L399.9,989.0 L400.2,989.0 L400.6,988.9 L401.0,988.8 L401.3,988.7 L401.7,988.5 L402.1,988.4 L402.4,988.1 L402.8,987.9 L403.2,987.6 L403.5,987.3 L403.9,987.0 L404.3,986.7 L404.6,986.3 L405.0,985.9 L405.4,985.4 L405.8,984.9 L406.1,984.5 L406.5,983.9 L406.9,983.4 L407.2,982.8 L407.6,982.2 L408.0,981.6 L408.3,980.9 L408.7,980.2 L409.1,979.5 L409.4,978.7 L409.8,978.0 L410.2,977.2 L410.5,976.4 L410.9,975.5 L411.3,974.6 L411.6,973.7 L412.0,972.8 L412.4,971.8 L412.7,970.9 L413.1,969.9 L413.5,968.8 L413.8,967.8 L414.2,966.7 L414.6,965.6 L414.9,964.5 L415.3,963.3 L415.7,962.1 L416.1,960.9 L416.4,959.7 L416.8,958.5 L417.2,957.2 L417.5,955.9 L417.9,954.6 L418.3,953.2 L418.6,951.9 L419.0,950.5 L419.4,949.1 L419.7,947.6 L420.1,946.2 L420.5,944.7 L420.8,943.2 L421.2,941.7 L421.6,940.2 L421.9,938.6 L422.3,937.0 L422.7,935.4 L423.0,933.8 L423.4,932.1 L423.8,930.5 L424.1,928.8 L424.5,927.1 L424.9,925.3 L425.2,923.6 L425.6,921.8 L426.0,920.0 L426.4,918.2 L426.7,916.4 L427.1,914.6 L427.5,912.7 L427.8,910.8 L428.2,908.9 L428.6,907.0 L428.9,905.1 L429.3,903.2 L429.7,901.2 L430.0,899.2 L430.4,897.2 L430.8,895.2 L431.1,893.2 L431.5,891.1 L431.9,889.1 L432.2,887.0 L432.6,884.9 L433.0,882.8 L433.3,880.7 L433.7,878.5 L434.1,876.4 L434.4,874.2 L434.8,872.0 L435.2,869.8 L435.6,867.6 L435.9,865.4 L436.3,863.2 L436.7,860.9 L437.0,858.7 L437.4,856.4 L437.8,854.1 L438.1,851.8 L438.5,849.5 L438.9,847.2 L439.2,844.8 L439.6,842.5 L440.0,840.1 L440.3,837.8 L440.7,835.4 L441.1,833.0 L441.4,830.6 L441.8,828.2 L442.2,825.8 L442.5,823.4 L442.9,821.0 L443.3,818.5 L443.6,816.1 L444.0,813.6 L444.4,811.1 L444.7,808.7 L445.1,806.2 L445.5,803.7 L445.9,801.2 L446.2,798.7 L446.6,796.2 L447.0,793.7 L447.3,791.2 L447.7,788.6 L448.1,786.1 L448.4,783.6 L448.8,781.0 L449.2,778.5 L449.5,775.9 L449.9,773.3 L450.3,770.8 L450.6,768.2 L451.0,765.6 L451.4,763.1 L451.7,760.5 L452.1,757.9 L452.5,755.3 L452.8,752.7 L453.2,750.2 L453.6,747.6 L453.9,745.0 L454.3,742.4 L454.7,739.8 L455.0,737.2 L455.4,734.6 L455.8,732.0 L456.2,729.4 L456.5,726.8 L456.9,724.2 L457.3,721.6 L457.6,719.0 L458.0,716.4 L458.4,713.8 L458.7,711.2 L459.1,708.6 L459.5,706.0 L459.8,703.4 L460.2,700.8 L460.6,698.2 L460.9,695.6 L461.3,693.1 L461.7,690.5 L462.0,687.9 L462.4,685.3 L462.8,682.8 L463.1,680.2 L463.5,677.6 L463.9,675.1 L464.2,672.5 L464.6,670.0 L465.0,667.4 L465.3,664.9 L465.7,662.3 L466.1,659.8 L466.5,657.3 L466.8,654.8 L467.2,652.3 L467.6,649.8 L467.9,647.3 L468.3,644.8 L468.7,642.3 L469.0,639.8 L469.4,637.3 L469.8,634.9 L470.1,632.4 L470.5,630.0" stroke="#00ff00" stroke-width="3.6"/>
<path d="M360.5,806.3 L360.9,809.4 L361.2,812.5 L361.6,815.6 L362.0,818.6 L362.3,821.7 L362.7,824.7 L363.1,827.6 L363.4,830.6 L363.8,833.5 L364.2,836.3 L364.5,839.2 L364.9,842.0 L365.3,844.8 L365.7,847.6 L366.0,850.3 L366.4,853.0 L366.8,855.7 L367.1,858.4 L367.5,861.0 L367.9,863.6 L368.2,866.2 L368.6,868.7 L369.0,871.2 L369.3,873.7 L369.7,876.1 L370.1,878.6 L370.4,881.0 L370.8,883.3 L371.2,885.6 L371.5,887.9 L371.9,890.2 L372.3,892.5 L372.6,894.7 L373.0,896.8 L373.4,899.0 L373.7,901.1 L374.1,903.2 L374.5,905.3 L374.8,907.3 L375.2,909.3 L375.6,911.3 L376.0,913.2 L376.3,915.1 L376.7,917.0 L377.1,918.8 L377.4,920.6 L377.8,922.4 L378.2,924.2 L378.5,925.9 L378.9,927.6 L379.3,929.3 L379.6,930.9 L380.0,932.5 L380.4,934.1 L380.7,935.6 L381.1,937.1 L381.5,938.6 L381.8,940.0 L382.2,941.4 L382.6,942.8 L382.9,944.2 L383.3,945.5 L383.7,946.8 L384.0,948.1 L384.4,949.3 L384.8,950.5 L385.1,951.6 L385.5,952.8 L385.9,953.9 L386.3,955.0 L386.6,956.0 L387.0,957.0 L387.4,958.0 L387.7,958.9 L388.1,959.9 L388.5,960.7 L388.8,961.6 L389.2,962.4 L389.6,963.2 L389.9,964.0 L390.3,964.7 L390.7,965.4 L391.0,966.1 L391.4,966.8 L391.8,967.4 L392.1,967.9 L392.5,968.5 L392.9,969.0 L393.2,969.5 L393.6,970.0 L394.0,970.4 L394.3,970.8 L394.7,971.2 L395.1,971.5 L395.4,971.8 L395.8,972.1 L396.2,972.4 L396.6,972.6 L396.9,972.8 L397.3,972.9 L397.7,973.1 L398.0,973.2 L398.4,973.2 L398.8,973.3 L399.1,973.3 L399.5,973.3 L399.9,973.3 L400.2,973.2 L400.6,973.1 L401.0,973.0 L401.3,972.8 L401.7,972.6 L402.1,972.4 L402.4,972.2 L402.8,971.9 L403.2,971.6 L403.5,971.3 L403.9,970.9 L404.3,970.5 L404.6,970.1 L405.0,969.7 L405.4,969.2 L405.8,968.7 L406.1,968.2 L406.5,967.7 L406.9,967.1 L407.2,966.5 L407.6,965.9 L408.0,965.2 L408.3,964.5 L408.7,963.8 L409.1,963.1 L409.4,962.3 L409.8,961.6 L410.2,960.8 L410.5,959.9 L410.9,959.1 L411.3,958.2 L411.6,957.3 L412.0,956.3 L412.4,955.4 L412.7,954.4 L413.1,953.4 L413.5,952.3 L413.8,951.3 L414.2,950.2 L414.6,949.1 L414.9,948.0 L415.3,946.8 L415.7,945.6 L416.1,944.4 L416.4,943.2 L416.8,942.0 L417.2,940.7 L417.5,939.4 L417.9,938.1 L418.3,936.8 L418.6,935.4 L419.0,934.0 L419.4,932.6 L419.7,931.2 L420.1,929.7 L420.5,928.3 L420.8,926.8 L421.2,925.3 L421.6,923.8 L421.9,922.2 L422.3,920.6 L422.7,919.0 L423.0,917.4 L423.4,915.8 L423.8,914.2 L424.1,912.5 L424.5,910.8 L424.9,909.1 L425.2,907.4 L425.6,905.6 L426.0,903.9 L426.4,902.1 L426.7,900.3 L427.1,898.5 L427.5,896.6 L427.8,894.8 L428.2,892.9 L428.6,891.0 L428.9,889.1 L429.3,887.2 L429.7,885.3 L430.0,883.3 L430.4,881.4 L430.8,879.4 L431.1,877.4 L431.5,875.4 L431.9,873.3 L432.2,871.3 L432.6,869.2 L433.0,867.2 L433.3,865.1 L433.7,863.0 L434.1,860.9 L434.4,858.7 L434.8,856.6 L435.2,854.4 L435.6,852.3 L435.9,850.1 L436.3,847.9 L436.7,845.7 L437.0,843.5 L437.4,841.2 L437.8,839.0 L438.1,836.7 L438.5,834.5 L438.9,832.2 L439.2,829.9 L439.6,827.6 L440.0,825.3 L440.3,823.0 L440.7,820.7 L441.1,818.3 L441.4,816.0 L441.8,813.6 L442.2,811.3 L442.5,808.9 L442.9,806.5 L443.3,804.1 L443.6,801.7 L444.0,799.3 L444.4,796.9 L444.7,794.5 L445.1,792.1 L445.5,789.7 L445.9,787.2 L446.2,784.8 L446.6,782.3 L447.0,779.9 L447.3,777.4 L447.7,774.9 L448.1,772.5 L448.4,770.0 L448.8,767.5 L449.2,765.0 L449.5,762.5 L449.9,760.0 L450.3,757.5 L450.6,755.0 L451.0,752.5 L451.4,750.0 L451.7,747.5 L452.1,745.0 L452.5,742.4 L452.8,739.9 L453.2,737.4 L453.6,734.9 L453.9,732.3 L454.3,729.8 L454.7,727.3 L455.0,724.7 L455.4,722.2 L455.8,719.7 L456.2,717.1 L456.5,714.6 L456.9,712.1 L457.3,709.5 L457.6,707.0 L458.0,704.5 L458.4,702.0 L458.7,699.4 L459.1,696.9 L459.5,694.4 L459.8,691.9 L460.2,689.3 L460.6,686.8 L460.9,684.3 L461.3,681.8 L461.7,679.3 L462.0,676.8 L462.4,674.3 L462.8,671.8 L463.1,669.3 L463.5,666.8 L463.9,664.3 L464.2,661.8 L464.6,659.4 L465.0,656.9 L465.3,654.4 L465.7,652.0 L466.1,649.5 L466.5,647.1 L466.8,644.6 L467.2,642.2 L467.6,639.7 L467.9,637.3 L468.3,634.9 L468.7,632.5 L469.0,630.1 L469.4,627.7 L469.8,625.3 L470.1,622.9 L470.5,620.6" stroke="#0000ff" stroke-width="3.6"/>
<path d="M360.5,798.0 L360.9,801.0 L361.2,804.0 L361.6,806.9 L362.0,809.9 L362.3,812.8 L362.7,815.6 L363.1,818.5 L363.4,821.3 L363.8,824.1 L364.2,826.8 L364.5,829.6 L364.9,832.3 L365.3,835.0 L365.7,837.6 L366.0,840.2 L366.4,842.8 L366.8,845.4 L367.1,847.9 L367.5,850.4 L367.9,852.9 L368.2,855.4 L368.6,857.8 L369.0,860.2 L369.3,862.6 L369.7,864.9 L370.1,867.2 L370.4,869.5 L370.8,871.7 L371.2,874.0 L371.5,876.2 L371.9,878.3 L372.3,880.4 L372.6,882.6 L373.0,884.6 L373.4,886.7 L373.7,888.7 L374.1,890.7 L374.5,892.6 L374.8,894.6 L375.2,896.5 L375.6,898.3 L376.0,900.2 L376.3,902.0 L376.7,903.8 L377.1,905.5 L377.4,907.2 L377.8,908.9 L378.2,910.6 L378.5,912.2 L378.9,913.8 L379.3,915.4 L379.6,916.9 L380.0,918.4 L380.4,919.9 L380.7,921.4 L381.1,922.8 L381.5,924.2 L381.8,925.5 L382.2,926.9 L382.6,928.2 L382.9,929.4 L383.3,930.7 L383.7,931.9 L384.0,933.1 L384.4,934.2 L384.8,935.3 L385.1,936.4 L385.5,937.5 L385.9,938.5 L386.3,939.5 L386.6,940.5 L387.0,941.4 L387.4,942.3 L387.7,943.2 L388.1,944.1 L388.5,944.9 L388.8,945.7 L389.2,946.4 L389.6,947.2 L389.9,947.9 L390.3,948.5 L390.7,949.2 L391.0,949.8 L391.4,950.4 L391.8,950.9 L392.1,951.4 L392.5,951.9 L392.9,952.4 L393.2,952.8 L393.6,953.2 L394.0,953.6 L394.3,953.9 L394.7,954.3 L395.1,954.6 L395.4,954.8 L395.8,955.0 L396.2,955.2 L396.6,955.4 L396.9,955.6 L397.3,955.7 L397.7,955.8 L398.0,955.8 L398.4,955.9 L398.8,955.9 L399.1,955.8 L399.5,955.8 L399.9,955.7 L400.2,955.6 L400.6,955.5 L401.0,955.3 L401.3,955.1 L401.7,954.9 L402.1,954.6 L402.4,954.4 L402.8,954.0 L403.2,953.7 L403.5,953.4 L403.9,953.0 L404.3,952.6 L404.6,952.1 L405.0,951.7 L405.4,951.2 L405.8,950.7 L406.1,950.1 L406.5,949.6 L406.9,949.0 L407.2,948.3 L407.6,947.7 L408.0,947.0 L408.3,946.3 L408.7,945.6 L409.1,944.9 L409.4,944.1 L409.8,943.3 L410.2,942.5 L410.5,941.6 L410.9,940.7 L411.3,939.8 L411.6,938.9 L412.0,938.0 L412.4,937.0 L412.7,936.0 L413.1,935.0 L413.5,934.0 L413.8,932.9 L414.2,931.8 L414.6,930.7 L414.9,929.6 L415.3,928.4 L415.7,927.3 L416.1,926.1 L416.4,924.8 L416.8,923.6 L417.2,922.3 L417.5,921.0 L417.9,919.7 L418.3,918.4 L418.6,917.1 L419.0,915.7 L419.4,914.3 L419.7,912.9 L420.1,911.4 L420.5,910.0 L420.8,908.5 L421.2,907.0 L421.6,905.5 L421.9,904.0 L422.3,902.4 L422.7,900.9 L423.0,899.3 L423.4,897.7 L423.8,896.0 L424.1,894.4 L424.5,892.7 L424.9,891.0 L425.2,889.3 L425.6,887.6 L426.0,885.9 L426.4,884.1 L426.7,882.3 L427.1,880.6 L427.5,878.8 L427.8,876.9 L428.2,875.1 L428.6,873.2 L428.9,871.4 L429.3,869.5 L429.7,867.6 L430.0,865.7 L430.4,863.7 L430.8,861.8 L431.1,859.8 L431.5,857.8 L431.9,855.9 L432.2,853.9 L432.6,851.8 L433.0,849.8 L433.3,847.8 L433.7,845.7 L434.1,843.6 L434.4,841.5 L434.8,839.4 L435.2,837.3 L435.6,835.2 L435.9,833.1 L436.3,830.9 L436.7,828.8 L437.0,826.6 L437.4,824.4 L437.8,822.2 L438.1,820.0 L438.5,817.8 L438.9,815.6 L439.2,813.4 L439.6,811.1 L440.0,808.9 L440.3,806.6 L440.7,804.3 L441.1,802.1 L441.4,799.8 L441.8,797.5 L442.2,795.2 L442.5,792.8 L442.9,790.5 L443.3,788.2 L443.6,785.9 L444.0,783.5 L444.4,781.2 L444.7,778.8 L445.1,776.4 L445.5,774.1 L445.9,771.7 L446.2,769.3 L446.6,766.9 L447.0,764.5 L447.3,762.1 L447.7,759.7 L448.1,757.3 L448.4,754.9 L448.8,752.5 L449.2,750.1 L449.5,747.6 L449.9,745.2 L450.3,742.8 L450.6,740.3 L451.0,737.9 L451.4,735.5 L451.7,733.0 L452.1,730.6 L452.5,728.1 L452.8,725.7 L453.2,723.2 L453.6,720.8 L453.9,718.3 L454.3,715.9 L454.7,713.4 L455.0,711.0 L455.4,708.5 L455.8,706.0 L456.2,703.6 L456.5,701.1 L456.9,698.7 L457.3,696.2 L457.6,693.8 L458.0,691.3 L458.4,688.9 L458.7,686.4 L459.1,684.0 L459.5,681.5 L459.8,679.1 L460.2,676.6 L460.6,674.2 L460.9,671.8 L461.3,669.3 L461.7,666.9 L462.0,664.5 L462.4,662.0 L462.8,659.6 L463.1,657.2 L463.5,654.8 L463.9,652.4 L464.2,650.0 L464.6,647.6 L465.0,645.2 L465.3,642.8 L465.7,640.5 L466.1,638.1 L466.5,635.7 L466.8,633.4 L467.2,631.0 L467.6,628.7 L467.9,626.3 L468.3,624.0 L468.7,621.7 L469.0,619.3 L469.4,617.0 L469.8,614.7 L470.1,612.4 L470.5,610.1" stroke="#000000" stroke-width="3.6"/>
</g>
<path d="M378.8,1019.3v-5.0M378.8,582.4v5.0M424.7,1019.3v-5.0M424.7,582.4v5.0M360.5,946.5h5.0M470.5,946.5h-5.0M360.5,873.7h5.0M470.5,873.7h-5.0M360.5,800.8h5.0M470.5,800.8h-5.0M360.5,728.0h5.0M470.5,728.0h-5.0M360.5,655.2h5.0M470.5,655.2h-5.0" stroke="#1a1a1a" stroke-width="1.2" fill="none"/>
<rect x="360.5" y="582.4" width="110.0" height="436.9" fill="none" stroke="#1a1a1a" stroke-width="1.5"/>
<text x="355.3" y="1025.2" text-anchor="end" font-size="16.6" font-family="Liberation Sans, Arial, sans-serif" fill="#1a1a1a">–<tspan dx="0.4">10</tspan></text>
<text x="355.3" y="952.4" text-anchor="end" font-size="16.6" font-family="Liberation Sans, Arial, sans-serif" fill="#1a1a1a">–<tspan dx="0.4">9</tspan></text>
<text x="355.3" y="879.6" text-anchor="end" font-size="16.6" font-family="Liberation Sans, Arial, sans-serif" fill="#1a1a1a">–<tspan dx="0.4">8</tspan></text>
<text x="355.3" y="806.7" text-anchor="end" font-size="16.6" font-family="Liberation Sans, Arial, sans-serif" fill="#1a1a1a">–<tspan dx="0.4">7</tspan></text>
<text x="355.3" y="733.9" text-anchor="end" font-size="16.6" font-family="Liberation Sans, Arial, sans-serif" fill="#1a1a1a">–<tspan dx="0.4">6</tspan></text>
<text x="355.3" y="661.1" text-anchor="end" font-size="16.6" font-family="Liberation Sans, Arial, sans-serif" fill="#1a1a1a">–<tspan dx="0.4">5</tspan></text>
<text x="355.3" y="588.3" text-anchor="end" font-size="16.6" font-family="Liberation Sans, Arial, sans-serif" fill="#1a1a1a">–<tspan dx="0.4">4</tspan></text>
<text x="378.8" y="1036.9" text-anchor="middle" font-size="16.6" font-family="Liberation Sans, Arial, sans-serif" fill="#1a1a1a">3</text>
<text x="424.7" y="1036.9" text-anchor="middle" font-size="16.6" font-family="Liberation Sans, Arial, sans-serif" fill="#1a1a1a">3.5</text>
<text x="470.5" y="1036.9" text-anchor="middle" font-size="16.6" font-family="Liberation Sans, Arial, sans-serif" fill="#1a1a1a">4</text>
<clipPath id="c5"><rect x="513.5" y="582.4" width="111.4" height="436.9"/></clipPath>
<path d="M555.3,582.4V1019.3M513.5,964.7H624.9M513.5,910.1H624.9M513.5,855.5H624.9M513.5,800.8H624.9M513.5,746.2H624.9M513.5,691.6H624.9M513.5,637.0H624.9" stroke="#d2d2d2" stroke-width="0.9" fill="none"/>
<g clip-path="url(#c5)" fill="none" stroke-linejoin="round">
<path d="M513.5,695.9 L513.9,697.9 L514.2,699.9 L514.6,701.9 L515.0,703.9 L515.4,705.8 L515.7,707.8 L516.1,709.8 L516.5,711.8 L516.9,713.7 L517.2,715.7 L517.6,717.7 L518.0,719.6 L518.3,721.6 L518.7,723.5 L519.1,725.5 L519.5,727.4 L519.8,729.4 L520.2,731.3 L520.6,733.2 L521.0,735.2 L521.3,737.1 L521.7,739.0 L522.1,741.0 L522.4,742.9 L522.8,744.8 L523.2,746.7 L523.6,748.6 L523.9,750.5 L524.3,752.4 L524.7,754.3 L525.0,756.1 L525.4,758.0 L525.8,759.9 L526.2,761.8 L526.5,763.6 L526.9,765.5 L527.3,767.3 L527.7,769.2 L528.0,771.0 L528.4,772.8 L528.8,774.7 L529.1,776.5 L529.5,778.3 L529.9,780.1 L530.3,781.9 L530.6,783.7 L531.0,785.5 L531.4,787.3 L531.8,789.0 L532.1,790.8 L532.5,792.6 L532.9,794.3 L533.2,796.0 L533.6,797.8 L534.0,799.5 L534.4,801.2 L534.7,803.0 L535.1,804.7 L535.5,806.4 L535.9,808.1 L536.2,809.7 L536.6,811.4 L537.0,813.1 L537.3,814.7 L537.7,816.4 L538.1,818.0 L538.5,819.7 L538.8,821.3 L539.2,822.9 L539.6,824.5 L540.0,826.1 L540.3,827.7 L540.7,829.3 L541.1,830.8 L541.4,832.4 L541.8,834.0 L542.2,835.5 L542.6,837.0 L542.9,838.6 L543.3,840.1 L543.7,841.6 L544.1,843.1 L544.4,844.6 L544.8,846.0 L545.2,847.5 L545.5,848.9 L545.9,850.4 L546.3,851.8 L546.7,853.2 L547.0,854.7 L547.4,856.1 L547.8,857.4 L548.1,858.8 L548.5,860.2 L548.9,861.5 L549.3,862.9 L549.6,864.2 L550.0,865.5 L550.4,866.8 L550.8,868.1 L551.1,869.4 L551.5,870.7 L551.9,872.0 L552.2,873.2 L552.6,874.5 L553.0,875.7 L553.4,876.9 L553.7,878.1 L554.1,879.3 L554.5,880.5 L554.9,881.6 L555.2,882.8 L555.6,883.9 L556.0,885.1 L556.3,886.2 L556.7,887.3 L557.1,888.4 L557.5,889.5 L557.8,890.5 L558.2,891.6 L558.6,892.6 L559.0,893.6 L559.3,894.6 L559.7,895.6 L560.1,896.6 L560.4,897.6 L560.8,898.5 L561.2,899.5 L561.6,900.4 L561.9,901.3 L562.3,902.2 L562.7,903.1 L563.1,904.0 L563.4,904.8 L563.8,905.7 L564.2,906.5 L564.5,907.3 L564.9,908.1 L565.3,908.9 L565.7,909.7 L566.0,910.4 L566.4,911.2 L566.8,911.9 L567.2,912.6 L567.5,913.3 L567.9,914.0 L568.3,914.7 L568.6,915.3 L569.0,915.9 L569.4,916.6 L569.8,917.2 L570.1,917.7 L570.5,918.3 L570.9,918.9 L571.2,919.4 L571.6,919.9 L572.0,920.5 L572.4,921.0 L572.7,921.4 L573.1,921.9 L573.5,922.3 L573.9,922.8 L574.2,923.2 L574.6,923.6 L575.0,924.0 L575.3,924.3 L575.7,924.7 L576.1,925.0 L576.5,925.3 L576.8,925.6 L577.2,925.9 L577.6,926.2 L578.0,926.4 L578.3,926.7 L578.7,926.9 L579.1,927.1 L579.4,927.3 L579.8,927.4 L580.2,927.6 L580.6,927.7 L580.9,927.8 L581.3,927.9 L581.7,928.0 L582.1,928.0 L582.4,928.1 L582.8,928.1 L583.2,928.1 L583.5,928.1 L583.9,928.1 L584.3,928.1 L584.7,928.0 L585.0,927.9 L585.4,927.8 L585.8,927.7 L586.2,927.6 L586.5,927.4 L586.9,927.3 L587.3,927.1 L587.6,926.9 L588.0,926.6 L588.4,926.4 L588.8,926.1 L589.1,925.9 L589.5,925.6 L589.9,925.3 L590.3,924.9 L590.6,924.6 L591.0,924.2 L591.4,923.8 L591.7,923.4 L592.1,923.0 L592.5,922.6 L592.9,922.1 L593.2,921.6 L593.6,921.1 L594.0,920.6 L594.3,920.1 L594.7,919.5 L595.1,919.0 L595.5,918.4 L595.8,917.8 L596.2,917.2 L596.6,916.5 L597.0,915.9 L597.3,915.2 L597.7,914.5 L598.1,913.7 L598.4,913.0 L598.8,912.3 L599.2,911.5 L599.6,910.7 L599.9,909.9 L600.3,909.0 L600.7,908.2 L601.1,907.3 L601.4,906.4 L601.8,905.5 L602.2,904.6 L602.5,903.6 L602.9,902.7 L603.3,901.7 L603.7,900.7 L604.0,899.7 L604.4,898.6 L604.8,897.6 L605.2,896.5 L605.5,895.4 L605.9,894.3 L606.3,893.1 L606.6,892.0 L607.0,890.8 L607.4,889.6 L607.8,888.4 L608.1,887.1 L608.5,885.9 L608.9,884.6 L609.3,883.3 L609.6,882.0 L610.0,880.7 L610.4,879.3 L610.7,878.0 L611.1,876.6 L611.5,875.2 L611.9,873.7 L612.2,872.3 L612.6,870.8 L613.0,869.3 L613.4,867.8 L613.7,866.3 L614.1,864.8 L614.5,863.2 L614.8,861.6 L615.2,860.0 L615.6,858.4 L616.0,856.8 L616.3,855.1 L616.7,853.4 L617.1,851.7 L617.4,850.0 L617.8,848.3 L618.2,846.5 L618.6,844.8 L618.9,843.0 L619.3,841.2 L619.7,839.3 L620.1,837.5 L620.4,835.6 L620.8,833.7 L621.2,831.8 L621.5,829.9 L621.9,827.9 L622.3,826.0 L622.7,824.0 L623.0,822.0 L623.4,820.0 L623.8,817.9 L624.2,815.9 L624.5,813.8 L624.9,811.7" stroke="#666666" stroke-width="4.7" stroke-dasharray="10 8"/>
<path d="M513.5,695.9 L513.9,697.9 L514.2,699.9 L514.6,701.9 L515.0,703.9 L515.4,705.8 L515.7,707.8 L516.1,709.8 L516.5,711.8 L516.9,713.7 L517.2,715.7 L517.6,717.7 L518.0,719.6 L518.3,721.6 L518.7,723.5 L519.1,725.5 L519.5,727.4 L519.8,729.4 L520.2,731.3 L520.6,733.2 L521.0,735.2 L521.3,737.1 L521.7,739.0 L522.1,741.0 L522.4,742.9 L522.8,744.8 L523.2,746.7 L523.6,748.6 L523.9,750.5 L524.3,752.4 L524.7,754.3 L525.0,756.1 L525.4,758.0 L525.8,759.9 L526.2,761.8 L526.5,763.6 L526.9,765.5 L527.3,767.3 L527.7,769.2 L528.0,771.0 L528.4,772.8 L528.8,774.7 L529.1,776.5 L529.5,778.3 L529.9,780.1 L530.3,781.9 L530.6,783.7 L531.0,785.5 L531.4,787.3 L531.8,789.0 L532.1,790.8 L532.5,792.6 L532.9,794.3 L533.2,796.0 L533.6,797.8 L534.0,799.5 L534.4,801.2 L534.7,803.0 L535.1,804.7 L535.5,806.4 L535.9,808.1 L536.2,809.7 L536.6,811.4 L537.0,813.1 L537.3,814.7 L537.7,816.4 L538.1,818.0 L538.5,819.7 L538.8,821.3 L539.2,822.9 L539.6,824.5 L540.0,826.1 L540.3,827.7 L540.7,829.3 L541.1,830.8 L541.4,832.4 L541.8,834.0 L542.2,835.5 L542.6,837.0 L542.9,838.6 L543.3,840.1 L543.7,841.6 L544.1,843.1 L544.4,844.6 L544.8,846.0 L545.2,847.5 L545.5,848.9 L545.9,850.4 L546.3,851.8 L546.7,853.2 L547.0,854.7 L547.4,856.1 L547.8,857.4 L548.1,858.8 L548.5,860.2 L548.9,861.5 L549.3,862.9 L549.6,864.2 L550.0,865.5 L550.4,866.8 L550.8,868.1 L551.1,869.4 L551.5,870.7 L551.9,872.0 L552.2,873.2 L552.6,874.5 L553.0,875.7 L553.4,876.9 L553.7,878.1 L554.1,879.3 L554.5,880.5 L554.9,881.6 L555.2,882.8 L555.6,883.9 L556.0,885.1 L556.3,886.2 L556.7,887.3 L557.1,888.4 L557.5,889.5 L557.8,890.5 L558.2,891.6 L558.6,892.6 L559.0,893.6 L559.3,894.6 L559.7,895.6 L560.1,896.6 L560.4,897.6 L560.8,898.5 L561.2,899.5 L561.6,900.4 L561.9,901.3 L562.3,902.2 L562.7,903.1 L563.1,904.0 L563.4,904.8 L563.8,905.7 L564.2,906.5 L564.5,907.3 L564.9,908.1 L565.3,908.9 L565.7,909.7 L566.0,910.4 L566.4,911.2 L566.8,911.9 L567.2,912.6 L567.5,913.3 L567.9,914.0 L568.3,914.7 L568.6,915.3 L569.0,915.9 L569.4,916.6 L569.8,917.2 L570.1,917.7 L570.5,918.3 L570.9,918.9 L571.2,919.4 L571.6,919.9 L572.0,920.5 L572.4,921.0 L572.7,921.4 L573.1,921.9 L573.5,922.3 L573.9,922.8 L574.2,923.2 L574.6,923.6 L575.0,924.0 L575.3,924.3 L575.7,924.7 L576.1,925.0 L576.5,925.3 L576.8,925.6 L577.2,925.9 L577.6,926.2 L578.0,926.4 L578.3,926.7 L578.7,926.9 L579.1,927.1 L579.4,927.3 L579.8,927.4 L580.2,927.6 L580.6,927.7 L580.9,927.8 L581.3,927.9 L581.7,928.0 L582.1,928.0 L582.4,928.1 L582.8,928.1 L583.2,928.1 L583.5,928.1 L583.9,928.1 L584.3,928.1 L584.7,928.0 L585.0,927.9 L585.4,927.8 L585.8,927.7 L586.2,927.6 L586.5,927.4 L586.9,927.3 L587.3,927.1 L587.6,926.9 L588.0,926.6 L588.4,926.4 L588.8,926.1 L589.1,925.9 L589.5,925.6 L589.9,925.3 L590.3,924.9 L590.6,924.6 L591.0,924.2 L591.4,923.8 L591.7,923.4 L592.1,923.0 L592.5,922.6 L592.9,922.1 L593.2,921.6 L593.6,921.1 L594.0,920.6 L594.3,920.1 L594.7,919.5 L595.1,919.0 L595.5,918.4 L595.8,917.8 L596.2,917.2 L596.6,916.5 L597.0,915.9 L597.3,915.2 L597.7,914.5 L598.1,913.7 L598.4,913.0 L598.8,912.3 L599.2,911.5 L599.6,910.7 L599.9,909.9 L600.3,909.0 L600.7,908.2 L601.1,907.3 L601.4,906.4 L601.8,905.5 L602.2,904.6 L602.5,903.6 L602.9,902.7 L603.3,901.7 L603.7,900.7 L604.0,899.7 L604.4,898.6 L604.8,897.6 L605.2,896.5 L605.5,895.4 L605.9,894.3 L606.3,893.1 L606.6,892.0 L607.0,890.8 L607.4,889.6 L607.8,888.4 L608.1,887.1 L608.5,885.9 L608.9,884.6 L609.3,883.3 L609.6,882.0 L610.0,880.7 L610.4,879.3 L610.7,878.0 L611.1,876.6 L611.5,875.2 L611.9,873.7 L612.2,872.3 L612.6,870.8 L613.0,869.3 L613.4,867.8 L613.7,866.3 L614.1,864.8 L614.5,863.2 L614.8,861.6 L615.2,860.0 L615.6,858.4 L616.0,856.8 L616.3,855.1 L616.7,853.4 L617.1,851.7 L617.4,850.0 L617.8,848.3 L618.2,846.5 L618.6,844.8 L618.9,843.0 L619.3,841.2 L619.7,839.3 L620.1,837.5 L620.4,835.6 L620.8,833.7 L621.2,831.8 L621.5,829.9 L621.9,827.9 L622.3,826.0 L622.7,824.0 L623.0,822.0 L623.4,820.0 L623.8,817.9 L624.2,815.9 L624.5,813.8 L624.9,811.7" stroke="#ff0000" stroke-width="3.6"/>
<path d="M513.5,692.4 L513.9,694.3 L514.2,696.3 L514.6,698.2 L515.0,700.2 L515.4,702.1 L515.7,704.1 L516.1,706.0 L516.5,707.9 L516.9,709.8 L517.2,711.8 L517.6,713.7 L518.0,715.6 L518.3,717.5 L518.7,719.4 L519.1,721.3 L519.5,723.2 L519.8,725.1 L520.2,727.0 L520.6,728.9 L521.0,730.8 L521.3,732.7 L521.7,734.6 L522.1,736.5 L522.4,738.3 L522.8,740.2 L523.2,742.1 L523.6,743.9 L523.9,745.8 L524.3,747.6 L524.7,749.5 L525.0,751.3 L525.4,753.1 L525.8,755.0 L526.2,756.8 L526.5,758.6 L526.9,760.4 L527.3,762.2 L527.7,764.0 L528.0,765.8 L528.4,767.6 L528.8,769.4 L529.1,771.1 L529.5,772.9 L529.9,774.7 L530.3,776.4 L530.6,778.2 L531.0,779.9 L531.4,781.6 L531.8,783.4 L532.1,785.1 L532.5,786.8 L532.9,788.5 L533.2,790.2 L533.6,791.9 L534.0,793.6 L534.4,795.3 L534.7,796.9 L535.1,798.6 L535.5,800.2 L535.9,801.9 L536.2,803.5 L536.6,805.1 L537.0,806.8 L537.3,808.4 L537.7,810.0 L538.1,811.6 L538.5,813.2 L538.8,814.7 L539.2,816.3 L539.6,817.9 L540.0,819.4 L540.3,821.0 L540.7,822.5 L541.1,824.0 L541.4,825.5 L541.8,827.0 L542.2,828.5 L542.6,830.0 L542.9,831.5 L543.3,833.0 L543.7,834.4 L544.1,835.9 L544.4,837.3 L544.8,838.7 L545.2,840.1 L545.5,841.5 L545.9,842.9 L546.3,844.3 L546.7,845.7 L547.0,847.1 L547.4,848.4 L547.8,849.7 L548.1,851.1 L548.5,852.4 L548.9,853.7 L549.3,855.0 L549.6,856.3 L550.0,857.6 L550.4,858.8 L550.8,860.1 L551.1,861.3 L551.5,862.5 L551.9,863.8 L552.2,865.0 L552.6,866.2 L553.0,867.3 L553.4,868.5 L553.7,869.7 L554.1,870.8 L554.5,871.9 L554.9,873.1 L555.2,874.2 L555.6,875.3 L556.0,876.3 L556.3,877.4 L556.7,878.5 L557.1,879.5 L557.5,880.5 L557.8,881.6 L558.2,882.6 L558.6,883.5 L559.0,884.5 L559.3,885.5 L559.7,886.4 L560.1,887.4 L560.4,888.3 L560.8,889.2 L561.2,890.1 L561.6,891.0 L561.9,891.9 L562.3,892.7 L562.7,893.5 L563.1,894.4 L563.4,895.2 L563.8,896.0 L564.2,896.8 L564.5,897.5 L564.9,898.3 L565.3,899.0 L565.7,899.8 L566.0,900.5 L566.4,901.2 L566.8,901.8 L567.2,902.5 L567.5,903.2 L567.9,903.8 L568.3,904.4 L568.6,905.0 L569.0,905.6 L569.4,906.2 L569.8,906.8 L570.1,907.3 L570.5,907.8 L570.9,908.3 L571.2,908.8 L571.6,909.3 L572.0,909.8 L572.4,910.2 L572.7,910.7 L573.1,911.1 L573.5,911.5 L573.9,911.9 L574.2,912.3 L574.6,912.6 L575.0,913.0 L575.3,913.3 L575.7,913.6 L576.1,913.9 L576.5,914.2 L576.8,914.4 L577.2,914.7 L577.6,914.9 L578.0,915.1 L578.3,915.3 L578.7,915.5 L579.1,915.6 L579.4,915.8 L579.8,915.9 L580.2,916.0 L580.6,916.1 L580.9,916.2 L581.3,916.2 L581.7,916.3 L582.1,916.3 L582.4,916.3 L582.8,916.3 L583.2,916.3 L583.5,916.2 L583.9,916.2 L584.3,916.1 L584.7,916.0 L585.0,915.9 L585.4,915.7 L585.8,915.6 L586.2,915.4 L586.5,915.2 L586.9,915.0 L587.3,914.8 L587.6,914.6 L588.0,914.3 L588.4,914.0 L588.8,913.8 L589.1,913.4 L589.5,913.1 L589.9,912.8 L590.3,912.4 L590.6,912.0 L591.0,911.6 L591.4,911.2 L591.7,910.8 L592.1,910.3 L592.5,909.9 L592.9,909.4 L593.2,908.9 L593.6,908.3 L594.0,907.8 L594.3,907.2 L594.7,906.6 L595.1,906.0 L595.5,905.4 L595.8,904.8 L596.2,904.1 L596.6,903.5 L597.0,902.8 L597.3,902.1 L597.7,901.3 L598.1,900.6 L598.4,899.8 L598.8,899.0 L599.2,898.2 L599.6,897.4 L599.9,896.6 L600.3,895.7 L600.7,894.8 L601.1,893.9 L601.4,893.0 L601.8,892.1 L602.2,891.1 L602.5,890.2 L602.9,889.2 L603.3,888.2 L603.7,887.1 L604.0,886.1 L604.4,885.0 L604.8,883.9 L605.2,882.8 L605.5,881.7 L605.9,880.6 L606.3,879.4 L606.6,878.2 L607.0,877.0 L607.4,875.8 L607.8,874.6 L608.1,873.3 L608.5,872.1 L608.9,870.8 L609.3,869.4 L609.6,868.1 L610.0,866.8 L610.4,865.4 L610.7,864.0 L611.1,862.6 L611.5,861.2 L611.9,859.7 L612.2,858.3 L612.6,856.8 L613.0,855.3 L613.4,853.8 L613.7,852.2 L614.1,850.7 L614.5,849.1 L614.8,847.5 L615.2,845.9 L615.6,844.3 L616.0,842.6 L616.3,840.9 L616.7,839.2 L617.1,837.5 L617.4,835.8 L617.8,834.1 L618.2,832.3 L618.6,830.5 L618.9,828.7 L619.3,826.9 L619.7,825.0 L620.1,823.2 L620.4,821.3 L620.8,819.4 L621.2,817.5 L621.5,815.6 L621.9,813.6 L622.3,811.6 L622.7,809.6 L623.0,807.6 L623.4,805.6 L623.8,803.6 L624.2,801.5 L624.5,799.4 L624.9,797.3" stroke="#00ff00" stroke-width="3.6"/>
<path d="M513.5,685.8 L513.9,687.7 L514.2,689.6 L514.6,691.5 L515.0,693.3 L515.4,695.2 L515.7,697.1 L516.1,699.0 L516.5,700.8 L516.9,702.7 L517.2,704.6 L517.6,706.4 L518.0,708.3 L518.3,710.1 L518.7,712.0 L519.1,713.8 L519.5,715.7 L519.8,717.5 L520.2,719.3 L520.6,721.2 L521.0,723.0 L521.3,724.8 L521.7,726.6 L522.1,728.4 L522.4,730.2 L522.8,732.1 L523.2,733.8 L523.6,735.6 L523.9,737.4 L524.3,739.2 L524.7,741.0 L525.0,742.8 L525.4,744.5 L525.8,746.3 L526.2,748.1 L526.5,749.8 L526.9,751.5 L527.3,753.3 L527.7,755.0 L528.0,756.7 L528.4,758.5 L528.8,760.2 L529.1,761.9 L529.5,763.6 L529.9,765.3 L530.3,767.0 L530.6,768.7 L531.0,770.3 L531.4,772.0 L531.8,773.7 L532.1,775.3 L532.5,777.0 L532.9,778.6 L533.2,780.2 L533.6,781.9 L534.0,783.5 L534.4,785.1 L534.7,786.7 L535.1,788.3 L535.5,789.9 L535.9,791.5 L536.2,793.0 L536.6,794.6 L537.0,796.1 L537.3,797.7 L537.7,799.2 L538.1,800.8 L538.5,802.3 L538.8,803.8 L539.2,805.3 L539.6,806.8 L540.0,808.3 L540.3,809.8 L540.7,811.2 L541.1,812.7 L541.4,814.1 L541.8,815.6 L542.2,817.0 L542.6,818.4 L542.9,819.8 L543.3,821.2 L543.7,822.6 L544.1,824.0 L544.4,825.4 L544.8,826.7 L545.2,828.1 L545.5,829.4 L545.9,830.8 L546.3,832.1 L546.7,833.4 L547.0,834.7 L547.4,836.0 L547.8,837.2 L548.1,838.5 L548.5,839.8 L548.9,841.0 L549.3,842.2 L549.6,843.5 L550.0,844.7 L550.4,845.9 L550.8,847.1 L551.1,848.2 L551.5,849.4 L551.9,850.5 L552.2,851.7 L552.6,852.8 L553.0,853.9 L553.4,855.0 L553.7,856.1 L554.1,857.2 L554.5,858.3 L554.9,859.3 L555.2,860.4 L555.6,861.4 L556.0,862.4 L556.3,863.4 L556.7,864.4 L557.1,865.4 L557.5,866.4 L557.8,867.3 L558.2,868.3 L558.6,869.2 L559.0,870.1 L559.3,871.0 L559.7,871.9 L560.1,872.8 L560.4,873.7 L560.8,874.5 L561.2,875.3 L561.6,876.2 L561.9,877.0 L562.3,877.8 L562.7,878.6 L563.1,879.3 L563.4,880.1 L563.8,880.8 L564.2,881.5 L564.5,882.2 L564.9,882.9 L565.3,883.6 L565.7,884.3 L566.0,884.9 L566.4,885.6 L566.8,886.2 L567.2,886.8 L567.5,887.4 L567.9,888.0 L568.3,888.6 L568.6,889.1 L569.0,889.6 L569.4,890.2 L569.8,890.7 L570.1,891.2 L570.5,891.6 L570.9,892.1 L571.2,892.5 L571.6,893.0 L572.0,893.4 L572.4,893.8 L572.7,894.2 L573.1,894.5 L573.5,894.9 L573.9,895.2 L574.2,895.5 L574.6,895.9 L575.0,896.1 L575.3,896.4 L575.7,896.7 L576.1,896.9 L576.5,897.1 L576.8,897.3 L577.2,897.5 L577.6,897.7 L578.0,897.9 L578.3,898.0 L578.7,898.1 L579.1,898.3 L579.4,898.4 L579.8,898.4 L580.2,898.5 L580.6,898.5 L580.9,898.6 L581.3,898.6 L581.7,898.6 L582.1,898.6 L582.4,898.5 L582.8,898.5 L583.2,898.4 L583.5,898.3 L583.9,898.2 L584.3,898.1 L584.7,897.9 L585.0,897.8 L585.4,897.6 L585.8,897.4 L586.2,897.2 L586.5,897.0 L586.9,896.7 L587.3,896.5 L587.6,896.2 L588.0,895.9 L588.4,895.6 L588.8,895.2 L589.1,894.9 L589.5,894.5 L589.9,894.1 L590.3,893.7 L590.6,893.3 L591.0,892.9 L591.4,892.4 L591.7,892.0 L592.1,891.5 L592.5,891.0 L592.9,890.4 L593.2,889.9 L593.6,889.3 L594.0,888.8 L594.3,888.2 L594.7,887.6 L595.1,886.9 L595.5,886.3 L595.8,885.6 L596.2,884.9 L596.6,884.2 L597.0,883.5 L597.3,882.7 L597.7,882.0 L598.1,881.2 L598.4,880.4 L598.8,879.6 L599.2,878.8 L599.6,877.9 L599.9,877.1 L600.3,876.2 L600.7,875.3 L601.1,874.3 L601.4,873.4 L601.8,872.4 L602.2,871.5 L602.5,870.5 L602.9,869.4 L603.3,868.4 L603.7,867.4 L604.0,866.3 L604.4,865.2 L604.8,864.1 L605.2,863.0 L605.5,861.8 L605.9,860.7 L606.3,859.5 L606.6,858.3 L607.0,857.1 L607.4,855.8 L607.8,854.6 L608.1,853.3 L608.5,852.0 L608.9,850.7 L609.3,849.4 L609.6,848.0 L610.0,846.7 L610.4,845.3 L610.7,843.9 L611.1,842.5 L611.5,841.0 L611.9,839.6 L612.2,838.1 L612.6,836.6 L613.0,835.1 L613.4,833.6 L613.7,832.0 L614.1,830.4 L614.5,828.9 L614.8,827.3 L615.2,825.6 L615.6,824.0 L616.0,822.3 L616.3,820.7 L616.7,819.0 L617.1,817.2 L617.4,815.5 L617.8,813.8 L618.2,812.0 L618.6,810.2 L618.9,808.4 L619.3,806.6 L619.7,804.7 L620.1,802.9 L620.4,801.0 L620.8,799.1 L621.2,797.2 L621.5,795.2 L621.9,793.3 L622.3,791.3 L622.7,789.3 L623.0,787.3 L623.4,785.3 L623.8,783.3 L624.2,781.2 L624.5,779.1 L624.9,777.0" stroke="#0000ff" stroke-width="3.6"/>
<path d="M513.5,678.4 L513.9,680.2 L514.2,682.0 L514.6,683.8 L515.0,685.6 L515.4,687.5 L515.7,689.3 L516.1,691.1 L516.5,692.9 L516.9,694.7 L517.2,696.5 L517.6,698.3 L518.0,700.0 L518.3,701.8 L518.7,703.6 L519.1,705.4 L519.5,707.2 L519.8,708.9 L520.2,710.7 L520.6,712.4 L521.0,714.2 L521.3,715.9 L521.7,717.7 L522.1,719.4 L522.4,721.2 L522.8,722.9 L523.2,724.6 L523.6,726.4 L523.9,728.1 L524.3,729.8 L524.7,731.5 L525.0,733.2 L525.4,734.9 L525.8,736.6 L526.2,738.3 L526.5,739.9 L526.9,741.6 L527.3,743.3 L527.7,744.9 L528.0,746.6 L528.4,748.2 L528.8,749.9 L529.1,751.5 L529.5,753.2 L529.9,754.8 L530.3,756.4 L530.6,758.0 L531.0,759.6 L531.4,761.2 L531.8,762.8 L532.1,764.4 L532.5,765.9 L532.9,767.5 L533.2,769.1 L533.6,770.6 L534.0,772.2 L534.4,773.7 L534.7,775.2 L535.1,776.8 L535.5,778.3 L535.9,779.8 L536.2,781.3 L536.6,782.8 L537.0,784.2 L537.3,785.7 L537.7,787.2 L538.1,788.6 L538.5,790.1 L538.8,791.5 L539.2,793.0 L539.6,794.4 L540.0,795.8 L540.3,797.2 L540.7,798.6 L541.1,800.0 L541.4,801.3 L541.8,802.7 L542.2,804.1 L542.6,805.4 L542.9,806.7 L543.3,808.1 L543.7,809.4 L544.1,810.7 L544.4,812.0 L544.8,813.3 L545.2,814.6 L545.5,815.8 L545.9,817.1 L546.3,818.3 L546.7,819.6 L547.0,820.8 L547.4,822.0 L547.8,823.2 L548.1,824.4 L548.5,825.6 L548.9,826.8 L549.3,827.9 L549.6,829.1 L550.0,830.2 L550.4,831.3 L550.8,832.5 L551.1,833.6 L551.5,834.7 L551.9,835.7 L552.2,836.8 L552.6,837.9 L553.0,838.9 L553.4,840.0 L553.7,841.0 L554.1,842.0 L554.5,843.0 L554.9,844.0 L555.2,844.9 L555.6,845.9 L556.0,846.9 L556.3,847.8 L556.7,848.7 L557.1,849.6 L557.5,850.5 L557.8,851.4 L558.2,852.3 L558.6,853.2 L559.0,854.0 L559.3,854.8 L559.7,855.7 L560.1,856.5 L560.4,857.3 L560.8,858.0 L561.2,858.8 L561.6,859.6 L561.9,860.3 L562.3,861.0 L562.7,861.8 L563.1,862.5 L563.4,863.1 L563.8,863.8 L564.2,864.5 L564.5,865.1 L564.9,865.8 L565.3,866.4 L565.7,867.0 L566.0,867.6 L566.4,868.1 L566.8,868.7 L567.2,869.2 L567.5,869.8 L567.9,870.3 L568.3,870.8 L568.6,871.3 L569.0,871.8 L569.4,872.2 L569.8,872.7 L570.1,873.1 L570.5,873.5 L570.9,873.9 L571.2,874.3 L571.6,874.7 L572.0,875.0 L572.4,875.4 L572.7,875.7 L573.1,876.0 L573.5,876.3 L573.9,876.6 L574.2,876.8 L574.6,877.1 L575.0,877.3 L575.3,877.5 L575.7,877.7 L576.1,877.9 L576.5,878.1 L576.8,878.2 L577.2,878.4 L577.6,878.5 L578.0,878.6 L578.3,878.7 L578.7,878.8 L579.1,878.8 L579.4,878.9 L579.8,878.9 L580.2,878.9 L580.6,878.9 L580.9,878.9 L581.3,878.8 L581.7,878.8 L582.1,878.7 L582.4,878.6 L582.8,878.5 L583.2,878.4 L583.5,878.2 L583.9,878.1 L584.3,877.9 L584.7,877.7 L585.0,877.5 L585.4,877.3 L585.8,877.1 L586.2,876.8 L586.5,876.5 L586.9,876.2 L587.3,875.9 L587.6,875.6 L588.0,875.3 L588.4,874.9 L588.8,874.5 L589.1,874.1 L589.5,873.7 L589.9,873.3 L590.3,872.9 L590.6,872.4 L591.0,871.9 L591.4,871.4 L591.7,870.9 L592.1,870.4 L592.5,869.8 L592.9,869.3 L593.2,868.7 L593.6,868.1 L594.0,867.5 L594.3,866.8 L594.7,866.2 L595.1,865.5 L595.5,864.8 L595.8,864.1 L596.2,863.4 L596.6,862.7 L597.0,861.9 L597.3,861.1 L597.7,860.4 L598.1,859.5 L598.4,858.7 L598.8,857.9 L599.2,857.0 L599.6,856.1 L599.9,855.2 L600.3,854.3 L600.7,853.4 L601.1,852.4 L601.4,851.5 L601.8,850.5 L602.2,849.5 L602.5,848.4 L602.9,847.4 L603.3,846.3 L603.7,845.3 L604.0,844.2 L604.4,843.1 L604.8,841.9 L605.2,840.8 L605.5,839.6 L605.9,838.4 L606.3,837.2 L606.6,836.0 L607.0,834.8 L607.4,833.5 L607.8,832.2 L608.1,830.9 L608.5,829.6 L608.9,828.3 L609.3,827.0 L609.6,825.6 L610.0,824.2 L610.4,822.8 L610.7,821.4 L611.1,820.0 L611.5,818.5 L611.9,817.0 L612.2,815.6 L612.6,814.0 L613.0,812.5 L613.4,811.0 L613.7,809.4 L614.1,807.8 L614.5,806.2 L614.8,804.6 L615.2,803.0 L615.6,801.3 L616.0,799.7 L616.3,798.0 L616.7,796.3 L617.1,794.6 L617.4,792.8 L617.8,791.1 L618.2,789.3 L618.6,787.5 L618.9,785.7 L619.3,783.9 L619.7,782.0 L620.1,780.2 L620.4,778.3 L620.8,776.4 L621.2,774.5 L621.5,772.5 L621.9,770.6 L622.3,768.6 L622.7,766.6 L623.0,764.6 L623.4,762.6 L623.8,760.6 L624.2,758.5 L624.5,756.4 L624.9,754.3" stroke="#000000" stroke-width="3.6"/>
</g>
<path d="M555.3,1019.3v-5.0M555.3,582.4v5.0M513.5,964.7h5.0M624.9,964.7h-5.0M513.5,910.1h5.0M624.9,910.1h-5.0M513.5,855.5h5.0M624.9,855.5h-5.0M513.5,800.8h5.0M624.9,800.8h-5.0M513.5,746.2h5.0M624.9,746.2h-5.0M513.5,691.6h5.0M624.9,691.6h-5.0M513.5,637.0h5.0M624.9,637.0h-5.0" stroke="#1a1a1a" stroke-width="1.2" fill="none"/>
<rect x="513.5" y="582.4" width="111.4" height="436.9" fill="none" stroke="#1a1a1a" stroke-width="1.5"/>
<text x="508.3" y="1025.2" text-anchor="end" font-size="16.6" font-family="Liberation Sans, Arial, sans-serif" fill="#1a1a1a">–<tspan dx="0.4">8</tspan></text>
<text x="508.3" y="970.6" text-anchor="end" font-size="16.6" font-family="Liberation Sans, Arial, sans-serif" fill="#1a1a1a">–<tspan dx="0.4">7.5</tspan></text>
<text x="508.3" y="916.0" text-anchor="end" font-size="16.6" font-family="Liberation Sans, Arial, sans-serif" fill="#1a1a1a">–<tspan dx="0.4">7</tspan></text>
<text x="508.3" y="861.4" text-anchor="end" font-size="16.6" font-family="Liberation Sans, Arial, sans-serif" fill="#1a1a1a">–<tspan dx="0.4">6.5</tspan></text>
<text x="508.3" y="806.7" text-anchor="end" font-size="16.6" font-family="Liberation Sans, Arial, sans-serif" fill="#1a1a1a">–<tspan dx="0.4">6</tspan></text>
<text x="508.3" y="752.1" text-anchor="end" font-size="16.6" font-family="Liberation Sans, Arial, sans-serif" fill="#1a1a1a">–<tspan dx="0.4">5.5</tspan></text>
<text x="508.3" y="697.5" text-anchor="end" font-size="16.6" font-family="Liberation Sans, Arial, sans-serif" fill="#1a1a1a">–<tspan dx="0.4">5</tspan></text>
<text x="508.3" y="642.9" text-anchor="end" font-size="16.6" font-family="Liberation Sans, Arial, sans-serif" fill="#1a1a1a">–<tspan dx="0.4">4.5</tspan></text>
<text x="508.3" y="588.3" text-anchor="end" font-size="16.6" font-family="Liberation Sans, Arial, sans-serif" fill="#1a1a1a">–<tspan dx="0.4">4</tspan></text>
<text x="555.3" y="1036.9" text-anchor="middle" font-size="16.6" font-family="Liberation Sans, Arial, sans-serif" fill="#1a1a1a">5.5</text>
<text x="624.9" y="1036.9" text-anchor="middle" font-size="16.6" font-family="Liberation Sans, Arial, sans-serif" fill="#1a1a1a">6</text>
<text transform="translate(17.9,800) rotate(-90)" text-anchor="middle" font-size="22.15" letter-spacing="0.05" font-family="Liberation Serif, Times New Roman, serif" font-weight="bold" fill="#1a1a1a">Angle of attack (deg)</text>
<text x="347.6" y="1060" text-anchor="middle" font-size="20.2" font-family="Liberation Serif, Times New Roman, serif" font-weight="bold" fill="#1a1a1a">Time (s)</text>
<text x="349.2" y="1092.9" text-anchor="middle" font-size="22.05" font-family="Liberation Serif, Times New Roman, serif" fill="#1a1a1a">Details of response</text>
</svg>
</body></html>
